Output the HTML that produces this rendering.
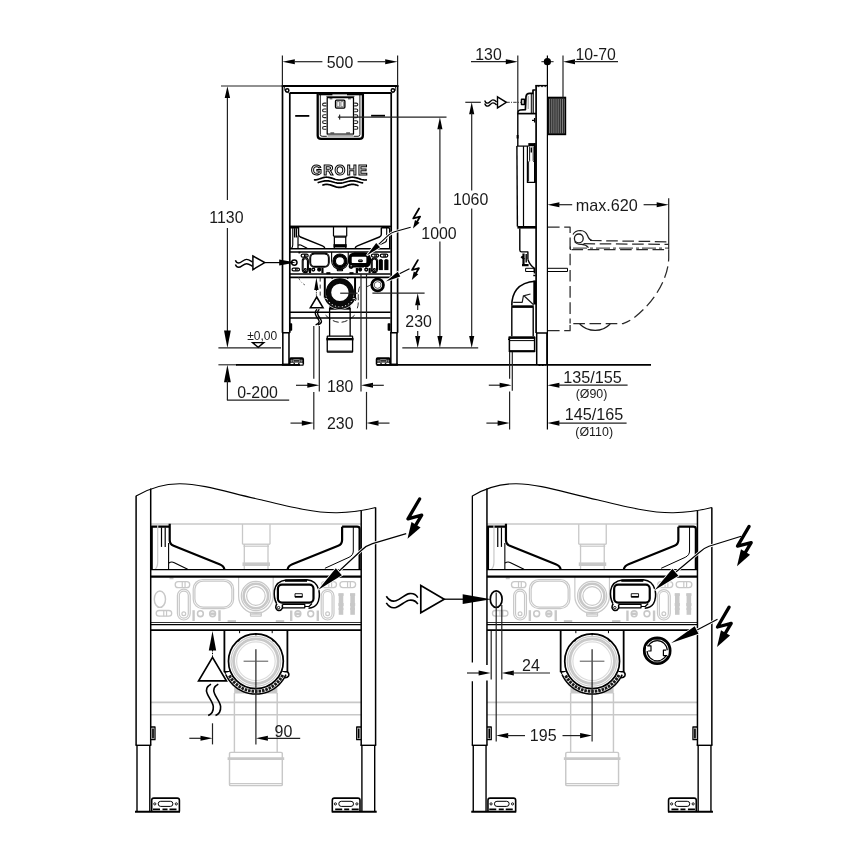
<!DOCTYPE html>
<html lang="en">
<head>
<meta charset="utf-8">
<title>Installation dimensions</title>
<style>
html,body{margin:0;padding:0;background:#fff;}
body{width:868px;height:868px;overflow:hidden;}
svg{display:block;will-change:transform;filter:grayscale(1);}
svg text{font-family:"Liberation Sans",sans-serif;fill:#1a1a1a;}
</style>
</head>
<body>
<svg width="868" height="868" viewBox="0 0 868 868">
<rect x="0" y="0" width="868" height="868" fill="#ffffff"/>
<!-- bottom view dx=0 -->
<path d="M 136.1,496 C 147,489.5 162,483.6 180,483.7 C 204,483.9 230,493.2 262,500 C 290,506.8 315,513 337,512.7 C 351,512.5 364,510.5 375.6,507.5" fill="none" stroke="#000" stroke-width="1.1" stroke-linejoin="round"/>
<line x1="150.7" y1="524" x2="361.2" y2="524" fill="none" stroke="#c8c8c8" stroke-width="1.44"/>
<line x1="242.5" y1="524" x2="242.5" y2="544.2" fill="none" stroke="#c8c8c8" stroke-width="1.32"/>
<line x1="270" y1="524" x2="270" y2="544.2" fill="none" stroke="#c8c8c8" stroke-width="1.32"/>
<line x1="242.5" y1="544.2" x2="270" y2="544.2" fill="none" stroke="#c8c8c8" stroke-width="1.32"/>
<line x1="243.5" y1="546.2" x2="269" y2="546.2" fill="none" stroke="#c8c8c8" stroke-width="1.2"/>
<line x1="244.3" y1="544.2" x2="244.3" y2="569" fill="none" stroke="#c8c8c8" stroke-width="1.32"/>
<line x1="268" y1="544.2" x2="268" y2="569" fill="none" stroke="#c8c8c8" stroke-width="1.32"/>
<line x1="242.5" y1="564.2" x2="270" y2="564.2" fill="none" stroke="#c8c8c8" stroke-width="3.6"/>
<ellipse cx="159.9" cy="599.2" rx="5.6" ry="8.2" fill="none" stroke="#c8c8c8" stroke-width="1.44"/>
<rect x="156.2" y="610.5" width="15.5" height="5.7" rx="2.85" ry="2.85" fill="none" stroke="#c8c8c8" stroke-width="1.32"/>
<line x1="163.75" y1="610.5" x2="163.75" y2="616.2" fill="none" stroke="#c8c8c8" stroke-width="1.2"/>
<line x1="166.55" y1="610.5" x2="166.55" y2="616.2" fill="none" stroke="#c8c8c8" stroke-width="1.2"/>
<rect x="175.2" y="581.7" width="14.5" height="6" rx="3" ry="3" fill="none" stroke="#c8c8c8" stroke-width="1.32"/>
<line x1="182.25" y1="581.7" x2="182.25" y2="587.7" fill="none" stroke="#c8c8c8" stroke-width="1.2"/>
<line x1="185.05" y1="581.7" x2="185.05" y2="587.7" fill="none" stroke="#c8c8c8" stroke-width="1.2"/>
<line x1="169.5" y1="578.3" x2="173.5" y2="578.3" fill="none" stroke="#c8c8c8" stroke-width="1.92"/>
<rect x="177.4" y="589.2" width="12.8" height="30.8" rx="6.4" ry="6.4" fill="none" stroke="#c8c8c8" stroke-width="1.2"/>
<rect x="179.3" y="591.1" width="9" height="27" rx="4.5" ry="4.5" fill="none" stroke="#c8c8c8" stroke-width="1.2"/>
<circle cx="183.8" cy="613.7" r="1.9" fill="none" stroke="#c8c8c8" stroke-width="1.2"/>
<rect x="193.2" y="579.5" width="40.4" height="29.2" rx="9.5" ry="9.5" fill="none" stroke="#c8c8c8" stroke-width="1.2"/>
<rect x="194.9" y="581.1" width="37" height="26" rx="8.2" ry="8.2" fill="none" stroke="#c8c8c8" stroke-width="1.2"/>
<line x1="193.6" y1="610.2" x2="193.6" y2="621" fill="none" stroke="#c8c8c8" stroke-width="2.4"/>
<line x1="219.5" y1="610.2" x2="219.5" y2="621" fill="none" stroke="#c8c8c8" stroke-width="2.4"/>
<circle cx="200.4" cy="613.7" r="2.9" fill="none" stroke="#c8c8c8" stroke-width="1.56"/>
<circle cx="212.6" cy="613.7" r="2.9" fill="none" stroke="#c8c8c8" stroke-width="1.56"/>
<line x1="210.2" y1="613.7" x2="215" y2="613.7" fill="none" stroke="#c8c8c8" stroke-width="2.4"/>
<line x1="238.6" y1="577" x2="238.6" y2="596" fill="none" stroke="#c8c8c8" stroke-width="1.2"/>
<line x1="273.2" y1="577" x2="273.2" y2="596" fill="none" stroke="#c8c8c8" stroke-width="1.2"/>
<path d="M 238.6,596 C 238.6,605.6 246.3,613.3 255.9,613.3 C 265.5,613.3 273.2,605.6 273.2,596" fill="none" stroke="#c8c8c8" stroke-width="1.2" stroke-linejoin="round"/>
<circle cx="255.9" cy="596" r="14.6" fill="none" stroke="#c8c8c8" stroke-width="1.2"/>
<circle cx="255.9" cy="596" r="12.2" fill="none" stroke="#c8c8c8" stroke-width="2.64"/>
<circle cx="255.9" cy="596" r="9.3" fill="none" stroke="#c8c8c8" stroke-width="1.2"/>
<rect x="250.5" y="612.3" width="10.8" height="3.9" rx="0.5" ry="0.5" fill="none" stroke="#c8c8c8" stroke-width="1.2"/>
<line x1="250.5" y1="614.2" x2="261.3" y2="614.2" fill="none" stroke="#c8c8c8" stroke-width="1.08"/>
<line x1="227.6" y1="621.2" x2="236" y2="621.2" fill="none" stroke="#c8c8c8" stroke-width="2.16"/>
<line x1="275.8" y1="621.2" x2="284.2" y2="621.2" fill="none" stroke="#c8c8c8" stroke-width="2.16"/>
<line x1="291.2" y1="610.5" x2="291.2" y2="621" fill="none" stroke="#c8c8c8" stroke-width="2.4"/>
<line x1="317.8" y1="610.5" x2="317.8" y2="621" fill="none" stroke="#c8c8c8" stroke-width="2.4"/>
<circle cx="297.9" cy="613.8" r="2.9" fill="none" stroke="#c8c8c8" stroke-width="1.56"/>
<line x1="295.5" y1="613.8" x2="300.3" y2="613.8" fill="none" stroke="#c8c8c8" stroke-width="2.4"/>
<circle cx="310.7" cy="613.8" r="2.9" fill="none" stroke="#c8c8c8" stroke-width="1.56"/>
<rect x="321.2" y="589.6" width="12.8" height="30.4" rx="6.4" ry="6.4" fill="none" stroke="#c8c8c8" stroke-width="1.2"/>
<rect x="323.1" y="591.5" width="9" height="26.6" rx="4.5" ry="4.5" fill="none" stroke="#c8c8c8" stroke-width="1.2"/>
<circle cx="327.6" cy="613.7" r="1.9" fill="none" stroke="#c8c8c8" stroke-width="1.2"/>
<rect x="339.9" y="581.6" width="15.7" height="6" rx="3" ry="3" fill="none" stroke="#c8c8c8" stroke-width="1.32"/>
<line x1="347.55" y1="581.6" x2="347.55" y2="587.6" fill="none" stroke="#c8c8c8" stroke-width="1.2"/>
<line x1="350.35" y1="581.6" x2="350.35" y2="587.6" fill="none" stroke="#c8c8c8" stroke-width="1.2"/>
<rect x="321.5" y="581.6" width="15" height="6" rx="3" ry="3" fill="none" stroke="#c8c8c8" stroke-width="1.32"/>
<line x1="328.8" y1="581.6" x2="328.8" y2="587.6" fill="none" stroke="#c8c8c8" stroke-width="1.2"/>
<line x1="331.6" y1="581.6" x2="331.6" y2="587.6" fill="none" stroke="#c8c8c8" stroke-width="1.2"/>
<line x1="341" y1="593.4" x2="341" y2="614.8" fill="none" stroke="#c8c8c8" stroke-width="4.56"/>
<line x1="338.4" y1="594.6" x2="343.6" y2="594.6" fill="none" stroke="#c8c8c8" stroke-width="2.64"/>
<line x1="338.4" y1="604.5" x2="343.6" y2="604.5" fill="none" stroke="#c8c8c8" stroke-width="2.88"/>
<line x1="338.6" y1="609" x2="343.4" y2="609" fill="none" stroke="#c8c8c8" stroke-width="1.92"/>
<line x1="352.6" y1="593.4" x2="352.6" y2="614.8" fill="none" stroke="#c8c8c8" stroke-width="4.56"/>
<line x1="350" y1="594.6" x2="355.2" y2="594.6" fill="none" stroke="#c8c8c8" stroke-width="2.64"/>
<line x1="350" y1="604.5" x2="355.2" y2="604.5" fill="none" stroke="#c8c8c8" stroke-width="2.88"/>
<line x1="350.2" y1="609" x2="355" y2="609" fill="none" stroke="#c8c8c8" stroke-width="1.92"/>
<path d="M 151.7,569.4 L 151.7,526.7 L 169.7,526.7" fill="none" stroke="#000" stroke-width="2.2" stroke-linejoin="round"/>
<path d="M 169.7,523.7 L 169.7,540 Q 169.7,544.2 173.6,545.8 L 219.5,564.2 Q 224,566 224.4,569.4" fill="none" stroke="#000" stroke-width="2.2" stroke-linejoin="round"/>
<path d="M 157.7,524 L 157.7,562 Q 157.6,567.5 155,569.4" fill="none" stroke="#c8c8c8" stroke-width="1.2" stroke-linejoin="round"/>
<line x1="161.5" y1="527.4" x2="161.5" y2="546.9" fill="none" stroke="#000" stroke-width="1.2"/>
<line x1="165.2" y1="527.4" x2="165.2" y2="546.9" fill="none" stroke="#000" stroke-width="1.2"/>
<line x1="168.6" y1="543" x2="168.6" y2="569.4" fill="none" stroke="#000" stroke-width="1.1"/>
<path d="M 168.8,563 Q 171.5,561.3 174.3,562.7 L 187.7,569.2" fill="none" stroke="#000" stroke-width="1.1" stroke-linejoin="round"/>
<path d="M 359.6,569.4 L 359.6,529 Q 359.6,526.7 357,526.7 L 342.1,526.7" fill="none" stroke="#000" stroke-width="2.2" stroke-linejoin="round"/>
<path d="M 342.1,526.7 L 342.1,540 Q 342.1,544.2 338.2,545.8 L 292.3,564.2 Q 288,566 287.6,569.4" fill="none" stroke="#000" stroke-width="2.2" stroke-linejoin="round"/>
<path d="M 353.3,527 L 353.3,551 Q 353.3,555.2 349,557.3 L 324.9,568.3" fill="none" stroke="#000" stroke-width="1" stroke-linejoin="round"/>
<line x1="150.7" y1="569.6" x2="361.2" y2="569.6" fill="none" stroke="#000" stroke-width="1.4"/>
<line x1="150.7" y1="576.7" x2="361.2" y2="576.7" fill="none" stroke="#000" stroke-width="2.3"/>
<line x1="150.7" y1="622.5" x2="361.2" y2="622.5" fill="none" stroke="#000" stroke-width="0.8"/>
<line x1="150.7" y1="624.6" x2="361.2" y2="624.6" fill="none" stroke="#000" stroke-width="1.3"/>
<line x1="150.7" y1="630.2" x2="361.2" y2="630.2" fill="none" stroke="#000" stroke-width="1.7"/>
<line x1="234.2" y1="690.4" x2="277.4" y2="690.4" fill="none" stroke="#c8c8c8" stroke-width="6"/>
<line x1="234.4" y1="693" x2="234.4" y2="752.4" fill="none" stroke="#c8c8c8" stroke-width="1.44"/>
<line x1="277.2" y1="693" x2="277.2" y2="752.4" fill="none" stroke="#c8c8c8" stroke-width="1.44"/>
<line x1="150.7" y1="702.4" x2="361.2" y2="702.4" fill="none" stroke="#c8c8c8" stroke-width="1.56"/>
<line x1="150.7" y1="714.7" x2="361.2" y2="714.7" fill="none" stroke="#c8c8c8" stroke-width="1.56"/>
<rect x="229.5" y="752.4" width="52.8" height="33.2" rx="1.2" ry="1.2" fill="none" stroke="#c8c8c8" stroke-width="1.44"/>
<line x1="227.6" y1="758.6" x2="284.2" y2="758.6" fill="none" stroke="#c8c8c8" stroke-width="2.64"/>
<line x1="229.5" y1="783.6" x2="282.3" y2="783.6" fill="none" stroke="#c8c8c8" stroke-width="1.2"/>
<line x1="224.4" y1="630.2" x2="224.4" y2="672.2" fill="none" stroke="#000" stroke-width="1.8"/>
<line x1="287.4" y1="630.2" x2="287.4" y2="672.2" fill="none" stroke="#000" stroke-width="1.8"/>
<line x1="239.6" y1="630.2" x2="239.6" y2="633.2" fill="none" stroke="#000" stroke-width="1"/>
<line x1="272.2" y1="630.2" x2="272.2" y2="633.2" fill="none" stroke="#000" stroke-width="1"/>
<path d="M 224.4,671.8 L 230.2,671.8 L 230.2,668.5" fill="none" stroke="#000" stroke-width="1.4" stroke-linejoin="round"/>
<path d="M 287.4,671.8 L 281.6,671.8 L 281.6,668.5" fill="none" stroke="#000" stroke-width="1.4" stroke-linejoin="round"/>
<path d="M 224.8,672.2 L 227.6,676.3 L 233.4,676.3" fill="none" stroke="#000" stroke-width="1.5" stroke-linejoin="round"/>
<path d="M 287.4,671.8 Q 289.6,673.5 288.6,676 Q 287.4,678 284,677.6 L 278.5,677.2" fill="none" stroke="#000" stroke-width="1.5" stroke-linejoin="round"/>
<circle cx="255.9" cy="661.2" r="27.4" fill="#fff"/>
<path d="M 284.09,672.59 L 282.82,675.32 L 281.3,677.91 L 279.53,680.33 L 277.52,682.57 L 275.3,684.6 L 272.9,686.4 L 270.33,687.96 L 267.62,689.25 L 264.79,690.27 L 261.87,691.01 L 258.9,691.45 L 255.9,691.6 L 252.9,691.45 L 249.93,691.01 L 247.01,690.27 L 244.18,689.25 L 241.47,687.96 L 238.9,686.4 L 236.5,684.6 L 234.28,682.57 L 232.27,680.33 L 230.5,677.91 L 228.98,675.32 L 227.71,672.59" fill="none" stroke="#fff" stroke-width="4.6" stroke-linejoin="round"/>
<path d="M 285.96,674.58 L 284.53,677.4 L 282.85,680.07 L 280.92,682.57 L 278.75,684.87 L 276.38,686.95 L 273.82,688.79 L 271.09,690.38 L 268.22,691.7 L 265.24,692.75 L 262.18,693.5 L 259.05,693.95 L 255.9,694.1 L 252.75,693.95 L 249.62,693.5 L 246.56,692.75 L 243.58,691.7 L 240.71,690.38 L 237.98,688.79 L 235.42,686.95 L 233.05,684.87 L 230.88,682.57 L 228.95,680.07 L 227.27,677.4 L 225.84,674.58" fill="none" stroke="#000" stroke-width="1.5" stroke-linejoin="round"/>
<path d="M 282.81,674.91 L 281.44,677.32 L 279.86,679.58 L 278.08,681.7 L 276.11,683.64 L 273.97,685.4 L 271.68,686.95 L 269.26,688.29 L 266.72,689.39 L 264.1,690.27 L 261.4,690.89 L 258.66,691.27 L 255.9,691.4 L 253.14,691.27 L 250.4,690.89 L 247.7,690.27 L 245.08,689.39 L 242.54,688.29 L 240.12,686.95 L 237.83,685.4 L 235.69,683.64 L 233.72,681.7 L 231.94,679.58 L 230.36,677.32 L 228.99,674.91" fill="none" stroke="#1a1a1a" stroke-width="3" stroke-dasharray="2.6 0.9" stroke-linejoin="round"/>
<circle cx="255.9" cy="661.2" r="27.4" fill="none" stroke="#000" stroke-width="1.7"/>
<circle cx="255.9" cy="661.2" r="24.9" fill="none" stroke="#c8c8c8" stroke-width="1.2"/>
<circle cx="255.9" cy="661.2" r="22.3" fill="none" stroke="#c8c8c8" stroke-width="2.88"/>
<circle cx="255.9" cy="661.2" r="19.3" fill="none" stroke="#dcdcdc" stroke-width="1.2"/>
<line x1="255.9" y1="633.8" x2="255.9" y2="635.2" fill="none" stroke="#000" stroke-width="1.6"/>
<line x1="273.51" y1="640.21" x2="272.61" y2="641.28" fill="none" stroke="#000" stroke-width="1.6"/>
<line x1="238.29" y1="640.21" x2="239.19" y2="641.28" fill="none" stroke="#000" stroke-width="1.6"/>
<path d="M 276.6,603.6 Q 273.6,598 274.4,590.5 Q 276,581.2 286,580 L 307,579.7 Q 316.5,580.6 318.9,590 Q 320.4,598 317.2,603.6 Q 314.5,607.6 308.5,608.2" fill="none" stroke="#000" stroke-width="1.5" stroke-linejoin="round"/>
<rect x="277.9" y="584.7" width="35.6" height="17.9" rx="4" ry="4" fill="#fff" stroke="#000" stroke-width="2.2"/>
<path d="M 295,593.7 L 302.3,593.7 L 302.3,597.2 L 295,597.2 Z" fill="none" stroke="#000" stroke-width="0.9" stroke-linejoin="round"/>
<line x1="295" y1="596.6" x2="302.3" y2="596.6" fill="none" stroke="#000" stroke-width="1.3"/>
<path d="M 277,603.8 Q 274.4,607.5 277.2,610 Q 280.6,611.6 282.4,608.2 L 282.4,604.6" fill="none" stroke="#000" stroke-width="1.5" stroke-linejoin="round"/>
<circle cx="278.6" cy="607.6" r="1.2" fill="none" stroke="#000" stroke-width="0.9"/>
<path d="M 282.4,604.4 L 304.8,604.4 L 304.8,607.8 L 282.4,607.8" fill="none" stroke="#000" stroke-width="1.2" stroke-linejoin="round"/>
<path d="M 304.8,606.5 L 309,606.5 L 312,603.5" fill="none" stroke="#000" stroke-width="1.2" stroke-linejoin="round"/>
<line x1="285" y1="580.8" x2="307" y2="580.8" fill="none" stroke="#000" stroke-width="2"/>
<line x1="135.5" y1="745.3" x2="151.3" y2="745.3" fill="none" stroke="#000" stroke-width="1.4"/>
<line x1="137" y1="745.3" x2="137" y2="811.6" fill="none" stroke="#000" stroke-width="1.4"/>
<line x1="149.8" y1="745.3" x2="149.8" y2="811.6" fill="none" stroke="#000" stroke-width="1.4"/>
<line x1="135" y1="811.7" x2="180" y2="811.7" fill="none" stroke="#000" stroke-width="2"/>
<path d="M 151.7,811.6 L 151.7,800.2 Q 151.7,798.1 153.8,798.1 L 177.3,798.1 Q 179.4,798.1 179.4,800.2 L 179.4,811.6" fill="none" stroke="#000" stroke-width="1.6" stroke-linejoin="round"/>
<rect x="158.2" y="801.3" width="14.7" height="5.1" rx="2.5" ry="2.5" fill="none" stroke="#000" stroke-width="1"/>
<circle cx="154.8" cy="803.9" r="1.1" fill="none" stroke="#000" stroke-width="0.9"/>
<circle cx="176.3" cy="803.9" r="1.1" fill="none" stroke="#000" stroke-width="0.9"/>
<line x1="153" y1="809.4" x2="178" y2="809.4" fill="none" stroke="#000" stroke-width="1.6" stroke-dasharray="7 2.5 5 2"/>
<path d="M 150.7,727 L 155,727 L 155,739.7 L 150.7,739.7" fill="none" stroke="#000" stroke-width="1.3" stroke-linejoin="round"/>
<line x1="153" y1="728.5" x2="153" y2="738.5" fill="none" stroke="#000" stroke-width="1.7"/>
<line x1="376.2" y1="745.3" x2="360.4" y2="745.3" fill="none" stroke="#000" stroke-width="1.4"/>
<line x1="374.7" y1="745.3" x2="374.7" y2="811.6" fill="none" stroke="#000" stroke-width="1.4"/>
<line x1="361.9" y1="745.3" x2="361.9" y2="811.6" fill="none" stroke="#000" stroke-width="1.4"/>
<line x1="376.7" y1="811.7" x2="331.7" y2="811.7" fill="none" stroke="#000" stroke-width="2"/>
<path d="M 360,811.6 L 360,800.2 Q 360,798.1 357.9,798.1 L 334.4,798.1 Q 332.3,798.1 332.3,800.2 L 332.3,811.6" fill="none" stroke="#000" stroke-width="1.6" stroke-linejoin="round"/>
<rect x="338.8" y="801.3" width="14.7" height="5.1" rx="2.5" ry="2.5" fill="none" stroke="#000" stroke-width="1"/>
<circle cx="356.9" cy="803.9" r="1.1" fill="none" stroke="#000" stroke-width="0.9"/>
<circle cx="335.4" cy="803.9" r="1.1" fill="none" stroke="#000" stroke-width="0.9"/>
<line x1="358.7" y1="809.4" x2="333.7" y2="809.4" fill="none" stroke="#000" stroke-width="1.6" stroke-dasharray="7 2.5 5 2"/>
<path d="M 361,727 L 356.7,727 L 356.7,739.7 L 361,739.7" fill="none" stroke="#000" stroke-width="1.3" stroke-linejoin="round"/>
<line x1="358.7" y1="728.5" x2="358.7" y2="738.5" fill="none" stroke="#000" stroke-width="1.7"/>
<line x1="136.1" y1="495.7" x2="136.1" y2="745.3" fill="none" stroke="#000" stroke-width="1.5"/>
<line x1="150.7" y1="488.6" x2="150.7" y2="745.3" fill="none" stroke="#000" stroke-width="1.5"/>
<line x1="361.2" y1="511" x2="361.2" y2="745.3" fill="none" stroke="#000" stroke-width="1.5"/>
<line x1="375.6" y1="507.4" x2="375.6" y2="745.3" fill="none" stroke="#000" stroke-width="1.5"/>
<path d="M 406.2,533.7 L 372.5,543.6 Q 366.5,545.4 361.5,550.2 L 337,573" fill="none" stroke="#fff" stroke-width="2.8" stroke-linejoin="round"/>
<path d="M 406.2,533.7 L 372.5,543.6 Q 366.5,545.4 361.5,550.2 L 337,573" fill="none" stroke="#000" stroke-width="1.2" stroke-linejoin="round"/>
<polygon points="318.1,589.9 335.8,568.36 341.85,575.29" fill="#000" stroke="#fff" stroke-width="1.6" paint-order="stroke" stroke-linejoin="miter"/>
<path d="M 419.6,499 L 408,518.8 L 421.7,515.2 L 414.98,526.38" fill="none" stroke="#000" stroke-width="3.3" stroke-linecap="round" stroke-linejoin="round"/>
<polygon points="407.5,538.8 411.47,521.93 420.55,527.39" fill="#000"/>
<polygon points="212.5,631 216.2,650.5 208.8,650.5" fill="#000"/>
<line x1="212.5" y1="650" x2="212.5" y2="657.6" fill="none" stroke="#000" stroke-width="1" stroke-dasharray="1.5 1.2"/>
<path d="M 212.5,657.4 L 226.4,680.8 L 198.6,680.8 Z" fill="none" stroke="#000" stroke-width="1.7" stroke-linejoin="miter"/>
<path d="M 211,684.1 C 206.5,686.5 205.5,689.5 207.2,693.5 C 208.8,698 212.8,702 213.3,706.5 C 213.6,711 211.8,714 208.2,715.5" fill="none" stroke="#000" stroke-width="1.6" stroke-linejoin="round"/>
<path d="M 218.3,684.1 C 213.8,686.5 212.8,689.5 214.5,693.5 C 216.1,698 220.1,702 220.6,706.5 C 220.9,711 219.1,714 215.5,715.5" fill="none" stroke="#000" stroke-width="1.6" stroke-linejoin="round"/>
<line x1="212.5" y1="723.3" x2="212.5" y2="744.4" fill="none" stroke="#222" stroke-width="1.2"/>
<line x1="255.9" y1="649.2" x2="255.9" y2="744.4" fill="none" stroke="#222" stroke-width="1.2"/>
<line x1="243.6" y1="661.2" x2="268.2" y2="661.2" fill="none" stroke="#555" stroke-width="1"/>
<line x1="189.3" y1="738.3" x2="202" y2="738.3" fill="none" stroke="#222" stroke-width="1.2"/>
<polygon points="212.5,738.3 200.5,740.85 200.5,735.75" fill="#000"/>
<polygon points="255.9,738.3 267.9,735.75 267.9,740.85" fill="#000"/>
<line x1="266.5" y1="738.3" x2="300.2" y2="738.3" fill="none" stroke="#222" stroke-width="1.2"/>
<text x="283.4" y="736.5" font-size="16" text-anchor="middle">90</text>
<!-- bottom view dx=336.25 -->
<path d="M 472.35,496 C 483.25,489.5 498.25,483.6 516.25,483.7 C 540.25,483.9 566.25,493.2 598.25,500 C 626.25,506.8 651.25,513 673.25,512.7 C 687.25,512.5 700.25,510.5 711.85,507.5" fill="none" stroke="#000" stroke-width="1.1" stroke-linejoin="round"/>
<line x1="486.95" y1="524" x2="697.45" y2="524" fill="none" stroke="#c8c8c8" stroke-width="1.44"/>
<line x1="578.75" y1="524" x2="578.75" y2="544.2" fill="none" stroke="#c8c8c8" stroke-width="1.32"/>
<line x1="606.25" y1="524" x2="606.25" y2="544.2" fill="none" stroke="#c8c8c8" stroke-width="1.32"/>
<line x1="578.75" y1="544.2" x2="606.25" y2="544.2" fill="none" stroke="#c8c8c8" stroke-width="1.32"/>
<line x1="579.75" y1="546.2" x2="605.25" y2="546.2" fill="none" stroke="#c8c8c8" stroke-width="1.2"/>
<line x1="580.55" y1="544.2" x2="580.55" y2="569" fill="none" stroke="#c8c8c8" stroke-width="1.32"/>
<line x1="604.25" y1="544.2" x2="604.25" y2="569" fill="none" stroke="#c8c8c8" stroke-width="1.32"/>
<line x1="578.75" y1="564.2" x2="606.25" y2="564.2" fill="none" stroke="#c8c8c8" stroke-width="3.6"/>
<rect x="492.45" y="610.5" width="15.5" height="5.7" rx="2.85" ry="2.85" fill="none" stroke="#c8c8c8" stroke-width="1.32"/>
<line x1="500" y1="610.5" x2="500" y2="616.2" fill="none" stroke="#c8c8c8" stroke-width="1.2"/>
<line x1="502.8" y1="610.5" x2="502.8" y2="616.2" fill="none" stroke="#c8c8c8" stroke-width="1.2"/>
<rect x="511.45" y="581.7" width="14.5" height="6" rx="3" ry="3" fill="none" stroke="#c8c8c8" stroke-width="1.32"/>
<line x1="518.5" y1="581.7" x2="518.5" y2="587.7" fill="none" stroke="#c8c8c8" stroke-width="1.2"/>
<line x1="521.3" y1="581.7" x2="521.3" y2="587.7" fill="none" stroke="#c8c8c8" stroke-width="1.2"/>
<line x1="505.75" y1="578.3" x2="509.75" y2="578.3" fill="none" stroke="#c8c8c8" stroke-width="1.92"/>
<rect x="513.65" y="589.2" width="12.8" height="30.8" rx="6.4" ry="6.4" fill="none" stroke="#c8c8c8" stroke-width="1.2"/>
<rect x="515.55" y="591.1" width="9" height="27" rx="4.5" ry="4.5" fill="none" stroke="#c8c8c8" stroke-width="1.2"/>
<circle cx="520.05" cy="613.7" r="1.9" fill="none" stroke="#c8c8c8" stroke-width="1.2"/>
<rect x="529.45" y="579.5" width="40.4" height="29.2" rx="9.5" ry="9.5" fill="none" stroke="#c8c8c8" stroke-width="1.2"/>
<rect x="531.15" y="581.1" width="37" height="26" rx="8.2" ry="8.2" fill="none" stroke="#c8c8c8" stroke-width="1.2"/>
<line x1="529.85" y1="610.2" x2="529.85" y2="621" fill="none" stroke="#c8c8c8" stroke-width="2.4"/>
<line x1="555.75" y1="610.2" x2="555.75" y2="621" fill="none" stroke="#c8c8c8" stroke-width="2.4"/>
<circle cx="536.65" cy="613.7" r="2.9" fill="none" stroke="#c8c8c8" stroke-width="1.56"/>
<circle cx="548.85" cy="613.7" r="2.9" fill="none" stroke="#c8c8c8" stroke-width="1.56"/>
<line x1="546.45" y1="613.7" x2="551.25" y2="613.7" fill="none" stroke="#c8c8c8" stroke-width="2.4"/>
<line x1="574.85" y1="577" x2="574.85" y2="596" fill="none" stroke="#c8c8c8" stroke-width="1.2"/>
<line x1="609.45" y1="577" x2="609.45" y2="596" fill="none" stroke="#c8c8c8" stroke-width="1.2"/>
<path d="M 574.85,596 C 574.85,605.6 582.55,613.3 592.15,613.3 C 601.75,613.3 609.45,605.6 609.45,596" fill="none" stroke="#c8c8c8" stroke-width="1.2" stroke-linejoin="round"/>
<circle cx="592.15" cy="596" r="14.6" fill="none" stroke="#c8c8c8" stroke-width="1.2"/>
<circle cx="592.15" cy="596" r="12.2" fill="none" stroke="#c8c8c8" stroke-width="2.64"/>
<circle cx="592.15" cy="596" r="9.3" fill="none" stroke="#c8c8c8" stroke-width="1.2"/>
<rect x="586.75" y="612.3" width="10.8" height="3.9" rx="0.5" ry="0.5" fill="none" stroke="#c8c8c8" stroke-width="1.2"/>
<line x1="586.75" y1="614.2" x2="597.55" y2="614.2" fill="none" stroke="#c8c8c8" stroke-width="1.08"/>
<line x1="563.85" y1="621.2" x2="572.25" y2="621.2" fill="none" stroke="#c8c8c8" stroke-width="2.16"/>
<line x1="612.05" y1="621.2" x2="620.45" y2="621.2" fill="none" stroke="#c8c8c8" stroke-width="2.16"/>
<line x1="627.45" y1="610.5" x2="627.45" y2="621" fill="none" stroke="#c8c8c8" stroke-width="2.4"/>
<line x1="654.05" y1="610.5" x2="654.05" y2="621" fill="none" stroke="#c8c8c8" stroke-width="2.4"/>
<circle cx="634.15" cy="613.8" r="2.9" fill="none" stroke="#c8c8c8" stroke-width="1.56"/>
<line x1="631.75" y1="613.8" x2="636.55" y2="613.8" fill="none" stroke="#c8c8c8" stroke-width="2.4"/>
<circle cx="646.95" cy="613.8" r="2.9" fill="none" stroke="#c8c8c8" stroke-width="1.56"/>
<rect x="657.45" y="589.6" width="12.8" height="30.4" rx="6.4" ry="6.4" fill="none" stroke="#c8c8c8" stroke-width="1.2"/>
<rect x="659.35" y="591.5" width="9" height="26.6" rx="4.5" ry="4.5" fill="none" stroke="#c8c8c8" stroke-width="1.2"/>
<circle cx="663.85" cy="613.7" r="1.9" fill="none" stroke="#c8c8c8" stroke-width="1.2"/>
<rect x="676.15" y="581.6" width="15.7" height="6" rx="3" ry="3" fill="none" stroke="#c8c8c8" stroke-width="1.32"/>
<line x1="683.8" y1="581.6" x2="683.8" y2="587.6" fill="none" stroke="#c8c8c8" stroke-width="1.2"/>
<line x1="686.6" y1="581.6" x2="686.6" y2="587.6" fill="none" stroke="#c8c8c8" stroke-width="1.2"/>
<rect x="657.75" y="581.6" width="15" height="6" rx="3" ry="3" fill="none" stroke="#c8c8c8" stroke-width="1.32"/>
<line x1="665.05" y1="581.6" x2="665.05" y2="587.6" fill="none" stroke="#c8c8c8" stroke-width="1.2"/>
<line x1="667.85" y1="581.6" x2="667.85" y2="587.6" fill="none" stroke="#c8c8c8" stroke-width="1.2"/>
<line x1="677.25" y1="593.4" x2="677.25" y2="614.8" fill="none" stroke="#c8c8c8" stroke-width="4.56"/>
<line x1="674.65" y1="594.6" x2="679.85" y2="594.6" fill="none" stroke="#c8c8c8" stroke-width="2.64"/>
<line x1="674.65" y1="604.5" x2="679.85" y2="604.5" fill="none" stroke="#c8c8c8" stroke-width="2.88"/>
<line x1="674.85" y1="609" x2="679.65" y2="609" fill="none" stroke="#c8c8c8" stroke-width="1.92"/>
<line x1="688.85" y1="593.4" x2="688.85" y2="614.8" fill="none" stroke="#c8c8c8" stroke-width="4.56"/>
<line x1="686.25" y1="594.6" x2="691.45" y2="594.6" fill="none" stroke="#c8c8c8" stroke-width="2.64"/>
<line x1="686.25" y1="604.5" x2="691.45" y2="604.5" fill="none" stroke="#c8c8c8" stroke-width="2.88"/>
<line x1="686.45" y1="609" x2="691.25" y2="609" fill="none" stroke="#c8c8c8" stroke-width="1.92"/>
<path d="M 487.95,569.4 L 487.95,526.7 L 505.95,526.7" fill="none" stroke="#000" stroke-width="2.2" stroke-linejoin="round"/>
<path d="M 505.95,523.7 L 505.95,540 Q 505.95,544.2 509.85,545.8 L 555.75,564.2 Q 560.25,566 560.65,569.4" fill="none" stroke="#000" stroke-width="2.2" stroke-linejoin="round"/>
<path d="M 493.95,524 L 493.95,562 Q 493.85,567.5 491.25,569.4" fill="none" stroke="#c8c8c8" stroke-width="1.2" stroke-linejoin="round"/>
<line x1="497.75" y1="527.4" x2="497.75" y2="546.9" fill="none" stroke="#000" stroke-width="1.2"/>
<line x1="501.45" y1="527.4" x2="501.45" y2="546.9" fill="none" stroke="#000" stroke-width="1.2"/>
<line x1="504.85" y1="543" x2="504.85" y2="569.4" fill="none" stroke="#000" stroke-width="1.1"/>
<path d="M 505.05,563 Q 507.75,561.3 510.55,562.7 L 523.95,569.2" fill="none" stroke="#000" stroke-width="1.1" stroke-linejoin="round"/>
<path d="M 695.85,569.4 L 695.85,529 Q 695.85,526.7 693.25,526.7 L 678.35,526.7" fill="none" stroke="#000" stroke-width="2.2" stroke-linejoin="round"/>
<path d="M 678.35,526.7 L 678.35,540 Q 678.35,544.2 674.45,545.8 L 628.55,564.2 Q 624.25,566 623.85,569.4" fill="none" stroke="#000" stroke-width="2.2" stroke-linejoin="round"/>
<path d="M 689.55,527 L 689.55,551 Q 689.55,555.2 685.25,557.3 L 661.15,568.3" fill="none" stroke="#000" stroke-width="1" stroke-linejoin="round"/>
<line x1="486.95" y1="569.6" x2="697.45" y2="569.6" fill="none" stroke="#000" stroke-width="1.4"/>
<line x1="486.95" y1="576.7" x2="697.45" y2="576.7" fill="none" stroke="#000" stroke-width="2.3"/>
<line x1="486.95" y1="622.5" x2="697.45" y2="622.5" fill="none" stroke="#000" stroke-width="0.8"/>
<line x1="486.95" y1="624.6" x2="697.45" y2="624.6" fill="none" stroke="#000" stroke-width="1.3"/>
<line x1="486.95" y1="630.2" x2="697.45" y2="630.2" fill="none" stroke="#000" stroke-width="1.7"/>
<line x1="570.45" y1="690.4" x2="613.65" y2="690.4" fill="none" stroke="#c8c8c8" stroke-width="6"/>
<line x1="570.65" y1="693" x2="570.65" y2="752.4" fill="none" stroke="#c8c8c8" stroke-width="1.44"/>
<line x1="613.45" y1="693" x2="613.45" y2="752.4" fill="none" stroke="#c8c8c8" stroke-width="1.44"/>
<line x1="486.95" y1="702.4" x2="697.45" y2="702.4" fill="none" stroke="#c8c8c8" stroke-width="1.56"/>
<line x1="486.95" y1="714.7" x2="697.45" y2="714.7" fill="none" stroke="#c8c8c8" stroke-width="1.56"/>
<rect x="565.75" y="752.4" width="52.8" height="33.2" rx="1.2" ry="1.2" fill="none" stroke="#c8c8c8" stroke-width="1.44"/>
<line x1="563.85" y1="758.6" x2="620.45" y2="758.6" fill="none" stroke="#c8c8c8" stroke-width="2.64"/>
<line x1="565.75" y1="783.6" x2="618.55" y2="783.6" fill="none" stroke="#c8c8c8" stroke-width="1.2"/>
<line x1="560.65" y1="630.2" x2="560.65" y2="672.2" fill="none" stroke="#000" stroke-width="1.8"/>
<line x1="623.65" y1="630.2" x2="623.65" y2="672.2" fill="none" stroke="#000" stroke-width="1.8"/>
<line x1="575.85" y1="630.2" x2="575.85" y2="633.2" fill="none" stroke="#000" stroke-width="1"/>
<line x1="608.45" y1="630.2" x2="608.45" y2="633.2" fill="none" stroke="#000" stroke-width="1"/>
<path d="M 560.65,671.8 L 566.45,671.8 L 566.45,668.5" fill="none" stroke="#000" stroke-width="1.4" stroke-linejoin="round"/>
<path d="M 623.65,671.8 L 617.85,671.8 L 617.85,668.5" fill="none" stroke="#000" stroke-width="1.4" stroke-linejoin="round"/>
<path d="M 561.05,672.2 L 563.85,676.3 L 569.65,676.3" fill="none" stroke="#000" stroke-width="1.5" stroke-linejoin="round"/>
<path d="M 623.65,671.8 Q 625.85,673.5 624.85,676 Q 623.65,678 620.25,677.6 L 614.75,677.2" fill="none" stroke="#000" stroke-width="1.5" stroke-linejoin="round"/>
<circle cx="592.15" cy="661.2" r="27.4" fill="#fff"/>
<path d="M 620.34,672.59 L 619.07,675.32 L 617.55,677.91 L 615.78,680.33 L 613.77,682.57 L 611.55,684.6 L 609.15,686.4 L 606.58,687.96 L 603.87,689.25 L 601.04,690.27 L 598.12,691.01 L 595.15,691.45 L 592.15,691.6 L 589.15,691.45 L 586.18,691.01 L 583.26,690.27 L 580.43,689.25 L 577.72,687.96 L 575.15,686.4 L 572.75,684.6 L 570.53,682.57 L 568.52,680.33 L 566.75,677.91 L 565.23,675.32 L 563.96,672.59" fill="none" stroke="#fff" stroke-width="4.6" stroke-linejoin="round"/>
<path d="M 622.21,674.58 L 620.78,677.4 L 619.1,680.07 L 617.17,682.57 L 615,684.87 L 612.63,686.95 L 610.07,688.79 L 607.34,690.38 L 604.47,691.7 L 601.49,692.75 L 598.43,693.5 L 595.3,693.95 L 592.15,694.1 L 589,693.95 L 585.87,693.5 L 582.81,692.75 L 579.83,691.7 L 576.96,690.38 L 574.23,688.79 L 571.67,686.95 L 569.3,684.87 L 567.13,682.57 L 565.2,680.07 L 563.52,677.4 L 562.09,674.58" fill="none" stroke="#000" stroke-width="1.5" stroke-linejoin="round"/>
<path d="M 619.06,674.91 L 617.69,677.32 L 616.11,679.58 L 614.33,681.7 L 612.36,683.64 L 610.22,685.4 L 607.93,686.95 L 605.51,688.29 L 602.97,689.39 L 600.35,690.27 L 597.65,690.89 L 594.91,691.27 L 592.15,691.4 L 589.39,691.27 L 586.65,690.89 L 583.95,690.27 L 581.33,689.39 L 578.79,688.29 L 576.37,686.95 L 574.08,685.4 L 571.94,683.64 L 569.97,681.7 L 568.19,679.58 L 566.61,677.32 L 565.24,674.91" fill="none" stroke="#1a1a1a" stroke-width="3" stroke-dasharray="2.6 0.9" stroke-linejoin="round"/>
<circle cx="592.15" cy="661.2" r="27.4" fill="none" stroke="#000" stroke-width="1.7"/>
<circle cx="592.15" cy="661.2" r="24.9" fill="none" stroke="#c8c8c8" stroke-width="1.2"/>
<circle cx="592.15" cy="661.2" r="22.3" fill="none" stroke="#c8c8c8" stroke-width="2.88"/>
<circle cx="592.15" cy="661.2" r="19.3" fill="none" stroke="#dcdcdc" stroke-width="1.2"/>
<line x1="592.15" y1="633.8" x2="592.15" y2="635.2" fill="none" stroke="#000" stroke-width="1.6"/>
<line x1="609.76" y1="640.21" x2="608.86" y2="641.28" fill="none" stroke="#000" stroke-width="1.6"/>
<line x1="574.54" y1="640.21" x2="575.44" y2="641.28" fill="none" stroke="#000" stroke-width="1.6"/>
<path d="M 612.85,603.6 Q 609.85,598 610.65,590.5 Q 612.25,581.2 622.25,580 L 643.25,579.7 Q 652.75,580.6 655.15,590 Q 656.65,598 653.45,603.6 Q 650.75,607.6 644.75,608.2" fill="none" stroke="#000" stroke-width="1.5" stroke-linejoin="round"/>
<rect x="614.15" y="584.7" width="35.6" height="17.9" rx="4" ry="4" fill="#fff" stroke="#000" stroke-width="2.2"/>
<path d="M 631.25,593.7 L 638.55,593.7 L 638.55,597.2 L 631.25,597.2 Z" fill="none" stroke="#000" stroke-width="0.9" stroke-linejoin="round"/>
<line x1="631.25" y1="596.6" x2="638.55" y2="596.6" fill="none" stroke="#000" stroke-width="1.3"/>
<path d="M 613.25,603.8 Q 610.65,607.5 613.45,610 Q 616.85,611.6 618.65,608.2 L 618.65,604.6" fill="none" stroke="#000" stroke-width="1.5" stroke-linejoin="round"/>
<circle cx="614.85" cy="607.6" r="1.2" fill="none" stroke="#000" stroke-width="0.9"/>
<path d="M 618.65,604.4 L 641.05,604.4 L 641.05,607.8 L 618.65,607.8" fill="none" stroke="#000" stroke-width="1.2" stroke-linejoin="round"/>
<path d="M 641.05,606.5 L 645.25,606.5 L 648.25,603.5" fill="none" stroke="#000" stroke-width="1.2" stroke-linejoin="round"/>
<line x1="621.25" y1="580.8" x2="643.25" y2="580.8" fill="none" stroke="#000" stroke-width="2"/>
<line x1="471.75" y1="745.3" x2="487.55" y2="745.3" fill="none" stroke="#000" stroke-width="1.4"/>
<line x1="473.25" y1="745.3" x2="473.25" y2="811.6" fill="none" stroke="#000" stroke-width="1.4"/>
<line x1="486.05" y1="745.3" x2="486.05" y2="811.6" fill="none" stroke="#000" stroke-width="1.4"/>
<line x1="471.25" y1="811.7" x2="516.25" y2="811.7" fill="none" stroke="#000" stroke-width="2"/>
<path d="M 487.95,811.6 L 487.95,800.2 Q 487.95,798.1 490.05,798.1 L 513.55,798.1 Q 515.65,798.1 515.65,800.2 L 515.65,811.6" fill="none" stroke="#000" stroke-width="1.6" stroke-linejoin="round"/>
<rect x="494.45" y="801.3" width="14.7" height="5.1" rx="2.5" ry="2.5" fill="none" stroke="#000" stroke-width="1"/>
<circle cx="491.05" cy="803.9" r="1.1" fill="none" stroke="#000" stroke-width="0.9"/>
<circle cx="512.55" cy="803.9" r="1.1" fill="none" stroke="#000" stroke-width="0.9"/>
<line x1="489.25" y1="809.4" x2="514.25" y2="809.4" fill="none" stroke="#000" stroke-width="1.6" stroke-dasharray="7 2.5 5 2"/>
<path d="M 486.95,727 L 491.25,727 L 491.25,739.7 L 486.95,739.7" fill="none" stroke="#000" stroke-width="1.3" stroke-linejoin="round"/>
<line x1="489.25" y1="728.5" x2="489.25" y2="738.5" fill="none" stroke="#000" stroke-width="1.7"/>
<line x1="712.45" y1="745.3" x2="696.65" y2="745.3" fill="none" stroke="#000" stroke-width="1.4"/>
<line x1="710.95" y1="745.3" x2="710.95" y2="811.6" fill="none" stroke="#000" stroke-width="1.4"/>
<line x1="698.15" y1="745.3" x2="698.15" y2="811.6" fill="none" stroke="#000" stroke-width="1.4"/>
<line x1="712.95" y1="811.7" x2="667.95" y2="811.7" fill="none" stroke="#000" stroke-width="2"/>
<path d="M 696.25,811.6 L 696.25,800.2 Q 696.25,798.1 694.15,798.1 L 670.65,798.1 Q 668.55,798.1 668.55,800.2 L 668.55,811.6" fill="none" stroke="#000" stroke-width="1.6" stroke-linejoin="round"/>
<rect x="675.05" y="801.3" width="14.7" height="5.1" rx="2.5" ry="2.5" fill="none" stroke="#000" stroke-width="1"/>
<circle cx="693.15" cy="803.9" r="1.1" fill="none" stroke="#000" stroke-width="0.9"/>
<circle cx="671.65" cy="803.9" r="1.1" fill="none" stroke="#000" stroke-width="0.9"/>
<line x1="694.95" y1="809.4" x2="669.95" y2="809.4" fill="none" stroke="#000" stroke-width="1.6" stroke-dasharray="7 2.5 5 2"/>
<path d="M 697.25,727 L 692.95,727 L 692.95,739.7 L 697.25,739.7" fill="none" stroke="#000" stroke-width="1.3" stroke-linejoin="round"/>
<line x1="694.95" y1="728.5" x2="694.95" y2="738.5" fill="none" stroke="#000" stroke-width="1.7"/>
<line x1="472.35" y1="495.7" x2="472.35" y2="662.5" fill="none" stroke="#000" stroke-width="1.3"/>
<line x1="472.35" y1="681.3" x2="472.35" y2="745.3" fill="none" stroke="#000" stroke-width="1.3"/>
<line x1="486.95" y1="488.6" x2="486.95" y2="665" fill="none" stroke="#000" stroke-width="1.5"/>
<line x1="486.95" y1="680.5" x2="486.95" y2="745.3" fill="none" stroke="#000" stroke-width="1.5"/>
<line x1="697.45" y1="511" x2="697.45" y2="745.3" fill="none" stroke="#000" stroke-width="1.5"/>
<line x1="711.85" y1="507.4" x2="711.85" y2="745.3" fill="none" stroke="#000" stroke-width="1.5"/>
<path d="M 741.2,536.2 L 709,546.3 Q 704,548 699.5,552.3 L 673.5,574" fill="none" stroke="#fff" stroke-width="2.8" stroke-linejoin="round"/>
<path d="M 741.2,536.2 L 709,546.3 Q 704,548 699.5,552.3 L 673.5,574" fill="none" stroke="#000" stroke-width="1.2" stroke-linejoin="round"/>
<polygon points="654.5,590.2 672.42,568.84 678.4,575.84" fill="#000" stroke="#fff" stroke-width="1.6" paint-order="stroke" stroke-linejoin="miter"/>
<path d="M 749.1,526.4 L 737.5,546.2 L 751.2,542.6 L 744.48,553.78" fill="none" stroke="#000" stroke-width="3.3" stroke-linecap="round" stroke-linejoin="round"/>
<polygon points="737,566.2 740.97,549.33 750.05,554.79" fill="#000"/>
<path d="M 717.5,619.2 L 697,630" fill="none" stroke="#fff" stroke-width="2.8" stroke-linejoin="round"/>
<path d="M 717.5,619.2 L 697,630" fill="none" stroke="#000" stroke-width="1.2" stroke-linejoin="round"/>
<polygon points="671.2,643 694.69,626.32 698.5,633.8" fill="#000" stroke="#fff" stroke-width="1.6" paint-order="stroke" stroke-linejoin="miter"/>
<path d="M 729.1,607.2 L 717.5,627 L 731.2,623.4 L 724.48,634.58" fill="none" stroke="#000" stroke-width="3.3" stroke-linecap="round" stroke-linejoin="round"/>
<polygon points="717,647 720.97,630.13 730.05,635.59" fill="#000"/>
<circle cx="657.2" cy="650.7" r="12.9" fill="none" stroke="#000" stroke-width="2.8"/>
<circle cx="657.2" cy="650.7" r="10.1" fill="none" stroke="#000" stroke-width="1.2"/>
<rect x="646" y="645.8" width="4.9" height="5.2" fill="#fff"/>
<rect x="663.4" y="650.2" width="5" height="5.4" fill="#fff"/>
<path d="M 647.2,645.8 L 651,645.8 L 651,651 L 648.2,651" fill="none" stroke="#000" stroke-width="1.2" stroke-linejoin="round"/>
<path d="M 667.2,655.6 L 663.4,655.6 L 663.4,650.2 L 666.2,650.2" fill="none" stroke="#000" stroke-width="1.2" stroke-linejoin="round"/>
<path d="M 654,639.6 L 660.4,639.6 M 654,661.8 L 660.4,661.8" fill="none" stroke="#444" stroke-width="1.2" stroke-linejoin="round"/>
<path d="M 386.3,596.3 C 389,600.5 392,602 396,600.8 C 401,599.2 405,594.2 409.5,593.6 C 413,593.2 416,594.5 417.8,597.6" fill="none" stroke="#000" stroke-width="1.6" stroke-linejoin="round"/>
<path d="M 386.3,602.9 C 389,607.1 392,608.6 396,607.4 C 401,605.8 405,600.8 409.5,600.2 C 413,599.8 416,601.1 417.8,604.2" fill="none" stroke="#000" stroke-width="1.6" stroke-linejoin="round"/>
<path d="M 420.8,585.6 L 444.2,599.2 L 420.8,612.8 Z" fill="none" stroke="#000" stroke-width="1.7" stroke-linejoin="miter"/>
<line x1="444.2" y1="599.2" x2="463" y2="599.2" fill="none" stroke="#000" stroke-width="1.3"/>
<polygon points="491.2,599.2 462.7,604.1 462.7,594.3" fill="#000"/>
<ellipse cx="496.2" cy="599.2" rx="5.9" ry="8.3" fill="none" stroke="#000" stroke-width="1.7"/>
<line x1="496.2" y1="592.5" x2="496.2" y2="741.5" fill="none" stroke="#222" stroke-width="1.2"/>
<line x1="501.8" y1="605" x2="501.8" y2="679.5" fill="none" stroke="#222" stroke-width="1.2"/>
<line x1="491.2" y1="631" x2="491.2" y2="679.5" fill="none" stroke="#222" stroke-width="1.2"/>
<line x1="467" y1="673" x2="479" y2="673" fill="none" stroke="#222" stroke-width="1.2"/>
<polygon points="490.6,673 478.6,675.55 478.6,670.45" fill="#000"/>
<polygon points="501.8,673 513.8,670.45 513.8,675.55" fill="#000"/>
<line x1="512" y1="673" x2="550" y2="673" fill="none" stroke="#222" stroke-width="1.2"/>
<text x="531" y="670.8" font-size="16" text-anchor="middle">24</text>
<line x1="592.1" y1="649.2" x2="592.1" y2="741.5" fill="none" stroke="#222" stroke-width="1.2"/>
<line x1="579.8" y1="661.2" x2="604.4" y2="661.2" fill="none" stroke="#555" stroke-width="1"/>
<polygon points="496.2,735.6 508.2,733.05 508.2,738.15" fill="#000"/>
<line x1="507" y1="735.6" x2="525" y2="735.6" fill="none" stroke="#222" stroke-width="1.2"/>
<line x1="562.5" y1="735.6" x2="581" y2="735.6" fill="none" stroke="#222" stroke-width="1.2"/>
<polygon points="592.1,735.6 580.1,738.15 580.1,733.05" fill="#000"/>
<text x="543.2" y="741" font-size="16" text-anchor="middle">195</text>
<!-- front view -->
<line x1="289.41" y1="226.49" x2="390.49" y2="226.49" fill="none" stroke="#000" stroke-width="1.32"/>
<line x1="333.49" y1="226.49" x2="333.49" y2="236.19" fill="none" stroke="#000" stroke-width="1.21"/>
<line x1="346.7" y1="226.49" x2="346.7" y2="236.19" fill="none" stroke="#000" stroke-width="1.21"/>
<line x1="333.49" y1="236.19" x2="346.7" y2="236.19" fill="none" stroke="#000" stroke-width="1.21"/>
<line x1="333.97" y1="237.15" x2="346.22" y2="237.15" fill="none" stroke="#000" stroke-width="1.1"/>
<line x1="334.36" y1="236.19" x2="334.36" y2="248.1" fill="none" stroke="#000" stroke-width="1.21"/>
<line x1="345.74" y1="236.19" x2="345.74" y2="248.1" fill="none" stroke="#000" stroke-width="1.21"/>
<line x1="333.49" y1="245.8" x2="346.7" y2="245.8" fill="none" stroke="#000" stroke-width="3.3"/>
<rect x="292.05" y="268.03" width="7.44" height="2.74" rx="1.37" ry="1.37" fill="none" stroke="#000" stroke-width="1.21"/>
<line x1="295.68" y1="268.03" x2="295.68" y2="270.77" fill="none" stroke="#000" stroke-width="1.1"/>
<line x1="297.02" y1="268.03" x2="297.02" y2="270.77" fill="none" stroke="#000" stroke-width="1.1"/>
<rect x="301.18" y="254.2" width="6.96" height="2.88" rx="1.44" ry="1.44" fill="none" stroke="#000" stroke-width="1.21"/>
<line x1="304.56" y1="254.2" x2="304.56" y2="257.08" fill="none" stroke="#000" stroke-width="1.1"/>
<line x1="305.91" y1="254.2" x2="305.91" y2="257.08" fill="none" stroke="#000" stroke-width="1.1"/>
<line x1="298.44" y1="252.57" x2="300.36" y2="252.57" fill="none" stroke="#000" stroke-width="1.76"/>
<rect x="302.23" y="257.8" width="6.15" height="14.79" rx="3.07" ry="3.07" fill="none" stroke="#000" stroke-width="1.1"/>
<rect x="303.14" y="258.72" width="4.32" height="12.97" rx="2.16" ry="2.16" fill="none" stroke="#000" stroke-width="1.1"/>
<circle cx="305.31" cy="269.57" r="0.91" fill="none" stroke="#000" stroke-width="1.1"/>
<rect x="309.82" y="253.15" width="19.4" height="14.02" rx="4.56" ry="4.56" fill="none" stroke="#000" stroke-width="1.1"/>
<rect x="310.64" y="253.91" width="17.77" height="12.49" rx="3.94" ry="3.94" fill="none" stroke="#000" stroke-width="1.1"/>
<line x1="310.01" y1="267.89" x2="310.01" y2="273.07" fill="none" stroke="#000" stroke-width="2.2"/>
<line x1="322.45" y1="267.89" x2="322.45" y2="273.07" fill="none" stroke="#000" stroke-width="2.2"/>
<circle cx="313.28" cy="269.57" r="1.39" fill="none" stroke="#000" stroke-width="1.43"/>
<circle cx="319.14" cy="269.57" r="1.39" fill="none" stroke="#000" stroke-width="1.43"/>
<line x1="317.98" y1="269.57" x2="320.29" y2="269.57" fill="none" stroke="#000" stroke-width="2.2"/>
<line x1="331.62" y1="251.95" x2="331.62" y2="261.07" fill="none" stroke="#000" stroke-width="1.1"/>
<line x1="348.24" y1="251.95" x2="348.24" y2="261.07" fill="none" stroke="#000" stroke-width="1.1"/>
<path d="M 331.62,261.07 C 331.62,265.68 335.32,269.38 339.93,269.38 C 344.54,269.38 348.24,265.68 348.24,261.07" fill="none" stroke="#000" stroke-width="1.1" stroke-linejoin="round"/>
<circle cx="339.93" cy="261.07" r="7.01" fill="none" stroke="#000" stroke-width="1.1"/>
<circle cx="339.93" cy="261.07" r="5.86" fill="none" stroke="#000" stroke-width="2.42"/>
<circle cx="339.93" cy="261.07" r="4.47" fill="none" stroke="#000" stroke-width="1.1"/>
<rect x="337.33" y="268.9" width="5.19" height="1.87" rx="0.24" ry="0.24" fill="none" stroke="#000" stroke-width="1.1"/>
<line x1="337.33" y1="269.81" x2="342.52" y2="269.81" fill="none" stroke="#000" stroke-width="0.99"/>
<line x1="326.34" y1="273.17" x2="330.37" y2="273.17" fill="none" stroke="#000" stroke-width="1.98"/>
<line x1="349.48" y1="273.17" x2="353.52" y2="273.17" fill="none" stroke="#000" stroke-width="1.98"/>
<line x1="356.88" y1="268.03" x2="356.88" y2="273.07" fill="none" stroke="#000" stroke-width="2.2"/>
<line x1="369.65" y1="268.03" x2="369.65" y2="273.07" fill="none" stroke="#000" stroke-width="2.2"/>
<circle cx="360.1" cy="269.62" r="1.39" fill="none" stroke="#000" stroke-width="1.43"/>
<line x1="358.94" y1="269.62" x2="361.25" y2="269.62" fill="none" stroke="#000" stroke-width="2.2"/>
<circle cx="366.24" cy="269.62" r="1.39" fill="none" stroke="#000" stroke-width="1.43"/>
<rect x="371.29" y="258" width="6.15" height="14.6" rx="3.07" ry="3.07" fill="none" stroke="#000" stroke-width="1.1"/>
<rect x="372.2" y="258.91" width="4.32" height="12.77" rx="2.16" ry="2.16" fill="none" stroke="#000" stroke-width="1.1"/>
<circle cx="374.36" cy="269.57" r="0.91" fill="none" stroke="#000" stroke-width="1.1"/>
<rect x="380.26" y="254.15" width="7.54" height="2.88" rx="1.44" ry="1.44" fill="none" stroke="#000" stroke-width="1.21"/>
<line x1="383.94" y1="254.15" x2="383.94" y2="257.04" fill="none" stroke="#000" stroke-width="1.1"/>
<line x1="385.28" y1="254.15" x2="385.28" y2="257.04" fill="none" stroke="#000" stroke-width="1.1"/>
<rect x="371.43" y="254.15" width="7.2" height="2.88" rx="1.44" ry="1.44" fill="none" stroke="#000" stroke-width="1.21"/>
<line x1="374.93" y1="254.15" x2="374.93" y2="257.04" fill="none" stroke="#000" stroke-width="1.1"/>
<line x1="376.28" y1="254.15" x2="376.28" y2="257.04" fill="none" stroke="#000" stroke-width="1.1"/>
<line x1="380.79" y1="259.82" x2="380.79" y2="270.1" fill="none" stroke="#000" stroke-width="4.18"/>
<line x1="379.54" y1="260.4" x2="382.04" y2="260.4" fill="none" stroke="#000" stroke-width="2.42"/>
<line x1="379.54" y1="265.15" x2="382.04" y2="265.15" fill="none" stroke="#000" stroke-width="2.64"/>
<line x1="379.64" y1="267.31" x2="381.95" y2="267.31" fill="none" stroke="#000" stroke-width="1.76"/>
<line x1="386.36" y1="259.82" x2="386.36" y2="270.1" fill="none" stroke="#000" stroke-width="4.18"/>
<line x1="385.11" y1="260.4" x2="387.61" y2="260.4" fill="none" stroke="#000" stroke-width="2.42"/>
<line x1="385.11" y1="265.15" x2="387.61" y2="265.15" fill="none" stroke="#000" stroke-width="2.64"/>
<line x1="385.21" y1="267.31" x2="387.52" y2="267.31" fill="none" stroke="#000" stroke-width="1.76"/>
<path d="M 289.89,248.3 L 289.89,227.79 L 298.53,227.79" fill="none" stroke="#000" stroke-width="1.45" stroke-linejoin="round"/>
<path d="M 298.53,226.35 L 298.53,234.18 Q 298.53,236.19 300.41,236.96 L 322.45,245.8 Q 324.61,246.66 324.8,248.3" fill="none" stroke="#000" stroke-width="1.45" stroke-linejoin="round"/>
<path d="M 292.77,226.49 L 292.77,244.74 Q 292.72,247.38 291.48,248.3" fill="none" stroke="#000" stroke-width="1.1" stroke-linejoin="round"/>
<line x1="294.6" y1="228.13" x2="294.6" y2="237.49" fill="none" stroke="#000" stroke-width="1.32"/>
<line x1="296.37" y1="228.13" x2="296.37" y2="237.49" fill="none" stroke="#000" stroke-width="1.32"/>
<line x1="298.01" y1="235.62" x2="298.01" y2="248.3" fill="none" stroke="#000" stroke-width="1.21"/>
<path d="M 298.1,245.22 Q 299.4,244.41 300.74,245.08 L 307.18,248.2" fill="none" stroke="#000" stroke-width="1.21" stroke-linejoin="round"/>
<path d="M 389.72,248.3 L 389.72,228.9 Q 389.72,227.79 388.48,227.79 L 381.32,227.79" fill="none" stroke="#000" stroke-width="1.45" stroke-linejoin="round"/>
<path d="M 381.32,227.79 L 381.32,234.18 Q 381.32,236.19 379.45,236.96 L 357.41,245.8 Q 355.34,246.66 355.15,248.3" fill="none" stroke="#000" stroke-width="1.45" stroke-linejoin="round"/>
<path d="M 386.7,227.94 L 386.7,239.46 Q 386.7,241.48 384.63,242.49 L 373.06,247.77" fill="none" stroke="#000" stroke-width="1.1" stroke-linejoin="round"/>
<line x1="289.41" y1="248.78" x2="390.49" y2="248.78" fill="none" stroke="#000" stroke-width="1.5"/>
<line x1="289.41" y1="251.95" x2="390.49" y2="251.95" fill="none" stroke="#000" stroke-width="1.6"/>
<line x1="289.41" y1="274.03" x2="390.49" y2="274.03" fill="none" stroke="#000" stroke-width="1.6"/>
<line x1="289.41" y1="277.3" x2="390.49" y2="277.3" fill="none" stroke="#000" stroke-width="1.7"/>
<line x1="329.51" y1="306.4" x2="350.25" y2="306.4" fill="none" stroke="#000" stroke-width="6.6"/>
<line x1="329.6" y1="307.65" x2="329.6" y2="336.17" fill="none" stroke="#000" stroke-width="1.32"/>
<line x1="350.16" y1="307.65" x2="350.16" y2="336.17" fill="none" stroke="#000" stroke-width="1.32"/>
<line x1="289.41" y1="312.16" x2="390.49" y2="312.16" fill="none" stroke="#000" stroke-width="1.43"/>
<line x1="289.41" y1="318.07" x2="390.49" y2="318.07" fill="none" stroke="#000" stroke-width="1.43"/>
<rect x="327.25" y="336.17" width="25.35" height="15.94" rx="0.58" ry="0.58" fill="none" stroke="#000" stroke-width="1.32"/>
<line x1="326.34" y1="339.15" x2="353.52" y2="339.15" fill="none" stroke="#000" stroke-width="2.42"/>
<line x1="327.25" y1="351.15" x2="352.61" y2="351.15" fill="none" stroke="#000" stroke-width="1.1"/>
<line x1="324.8" y1="277.49" x2="324.8" y2="297.66" fill="none" stroke="#000" stroke-width="1.98"/>
<line x1="355.05" y1="277.49" x2="355.05" y2="297.66" fill="none" stroke="#000" stroke-width="1.98"/>
<line x1="332.1" y1="277.49" x2="332.1" y2="278.93" fill="none" stroke="#000" stroke-width="1.1"/>
<line x1="347.76" y1="277.49" x2="347.76" y2="278.93" fill="none" stroke="#000" stroke-width="1.1"/>
<path d="M 324.8,297.47 L 327.59,297.47 L 327.59,295.88" fill="none" stroke="#000" stroke-width="1.54" stroke-linejoin="round"/>
<path d="M 355.05,297.47 L 352.27,297.47 L 352.27,295.88" fill="none" stroke="#000" stroke-width="1.54" stroke-linejoin="round"/>
<path d="M 324.99,297.66 L 326.34,299.63 L 329.12,299.63" fill="none" stroke="#000" stroke-width="1.65" stroke-linejoin="round"/>
<path d="M 355.05,297.47 Q 356.11,298.28 355.63,299.48 Q 355.05,300.45 353.42,300.25 L 350.78,300.06" fill="none" stroke="#000" stroke-width="1.65" stroke-linejoin="round"/>
<circle cx="339.93" cy="292.38" r="13.16" fill="#fff"/>
<path d="M 353.46,297.85 L 352.85,299.16 L 352.13,300.4 L 351.28,301.56 L 350.31,302.64 L 349.24,303.61 L 348.09,304.48 L 346.86,305.23 L 345.56,305.85 L 344.2,306.34 L 342.79,306.69 L 341.37,306.9 L 339.93,306.98 L 338.49,306.9 L 337.06,306.69 L 335.66,306.34 L 334.3,305.85 L 333,305.23 L 331.76,304.48 L 330.61,303.61 L 329.55,302.64 L 328.58,301.56 L 327.73,300.4 L 327,299.16 L 326.39,297.85" fill="none" stroke="#fff" stroke-width="5.06" stroke-linejoin="round"/>
<path d="M 354.36,298.8 L 353.68,300.16 L 352.87,301.44 L 351.94,302.64 L 350.9,303.74 L 349.76,304.74 L 348.53,305.63 L 347.22,306.39 L 345.84,307.02 L 344.41,307.53 L 342.94,307.89 L 341.44,308.1 L 339.93,308.18 L 338.42,308.1 L 336.91,307.89 L 335.44,307.53 L 334.01,307.02 L 332.63,306.39 L 331.32,305.63 L 330.09,304.74 L 328.96,303.74 L 327.91,302.64 L 326.99,301.44 L 326.18,300.16 L 325.49,298.8" fill="none" stroke="#000" stroke-width="1.65" stroke-linejoin="round"/>
<path d="M 352.85,298.96 L 352.19,300.12 L 351.43,301.2 L 350.58,302.22 L 349.63,303.15 L 348.61,304 L 347.51,304.74 L 346.34,305.39 L 345.12,305.91 L 343.87,306.34 L 342.57,306.64 L 341.25,306.82 L 339.93,306.88 L 338.6,306.82 L 337.29,306.64 L 335.99,306.34 L 334.73,305.91 L 333.51,305.39 L 332.35,304.74 L 331.25,304 L 330.22,303.15 L 329.28,302.22 L 328.42,301.2 L 327.66,300.12 L 327.01,298.96" fill="none" stroke="#1a1a1a" stroke-width="3.3" stroke-dasharray="2.6 0.9" stroke-linejoin="round"/>
<circle cx="339.93" cy="292.38" r="13.16" fill="none" stroke="#000" stroke-width="1.87"/>
<circle cx="339.93" cy="292.38" r="11.14" fill="none" stroke="#0a0a0a" stroke-width="4.8"/>
<line x1="339.93" y1="279.22" x2="339.93" y2="279.89" fill="none" stroke="#000" stroke-width="1.76"/>
<line x1="348.39" y1="282.3" x2="347.95" y2="282.81" fill="none" stroke="#000" stroke-width="1.76"/>
<line x1="331.47" y1="282.3" x2="331.9" y2="282.81" fill="none" stroke="#000" stroke-width="1.76"/>
<path d="M 349.87,264.72 Q 348.43,262.03 348.81,258.43 Q 349.58,253.96 354.38,253.39 L 364.47,253.24 Q 369.03,253.67 370.18,258.19 Q 370.9,262.03 369.36,264.72 Q 368.07,266.64 365.19,266.93" fill="#000" stroke="#000" stroke-width="1.65" stroke-linejoin="round"/>
<rect x="350.49" y="255.64" width="17.1" height="8.6" rx="1.92" ry="1.92" fill="#fff" stroke="#000" stroke-width="2.42"/>
<path d="M 358.7,259.96 L 362.21,259.96 L 362.21,261.65 L 358.7,261.65 Z" fill="none" stroke="#000" stroke-width="0.99" stroke-linejoin="round"/>
<line x1="358.7" y1="261.36" x2="362.21" y2="261.36" fill="none" stroke="#000" stroke-width="1.43"/>
<path d="M 350.06,264.81 Q 348.81,266.59 350.16,267.79 Q 351.79,268.56 352.65,266.93 L 352.65,265.2" fill="none" stroke="#000" stroke-width="1.65" stroke-linejoin="round"/>
<circle cx="350.83" cy="266.64" r="0.58" fill="none" stroke="#000" stroke-width="0.99"/>
<path d="M 352.65,265.1 L 363.41,265.1 L 363.41,266.74 L 352.65,266.74" fill="none" stroke="#000" stroke-width="1.32" stroke-linejoin="round"/>
<path d="M 363.41,266.11 L 365.43,266.11 L 366.87,264.67" fill="none" stroke="#000" stroke-width="1.32" stroke-linejoin="round"/>
<line x1="353.9" y1="253.77" x2="364.47" y2="253.77" fill="none" stroke="#000" stroke-width="2.2"/>
<line x1="282.11" y1="332.76" x2="289.7" y2="332.76" fill="none" stroke="#000" stroke-width="1.54"/>
<line x1="282.83" y1="332.76" x2="282.83" y2="364.6" fill="none" stroke="#000" stroke-width="1.54"/>
<line x1="288.98" y1="332.76" x2="288.98" y2="364.6" fill="none" stroke="#000" stroke-width="1.54"/>
<line x1="281.87" y1="364.65" x2="303.48" y2="364.65" fill="none" stroke="#000" stroke-width="2.2"/>
<path d="M 289.89,364.6 L 289.89,359.13 Q 289.89,358.12 290.9,358.12 L 302.18,358.12 Q 303.19,358.12 303.19,359.13 L 303.19,364.6" fill="#222" stroke="#000" stroke-width="1.76" stroke-linejoin="round"/>
<rect x="293.01" y="359.65" width="7.06" height="2.45" rx="1.2" ry="1.2" fill="none" stroke="#ddd" stroke-width="0.6"/>
<circle cx="291.38" cy="360.9" r="0.53" fill="none" stroke="#999" stroke-width="0.99"/>
<circle cx="301.7" cy="360.9" r="0.53" fill="none" stroke="#999" stroke-width="0.99"/>
<line x1="290.52" y1="363.54" x2="302.52" y2="363.54" fill="none" stroke="#fff" stroke-width="1.76" stroke-dasharray="3 1.5"/>
<path d="M 289.41,323.98 L 291.48,323.98 L 291.48,330.07 L 289.41,330.07" fill="#000" stroke="#000" stroke-width="1.43" stroke-linejoin="round"/>
<line x1="290.52" y1="324.7" x2="290.52" y2="329.5" fill="none" stroke="#000" stroke-width="1.87"/>
<line x1="397.7" y1="332.76" x2="390.11" y2="332.76" fill="none" stroke="#000" stroke-width="1.54"/>
<line x1="396.98" y1="332.76" x2="396.98" y2="364.6" fill="none" stroke="#000" stroke-width="1.54"/>
<line x1="390.83" y1="332.76" x2="390.83" y2="364.6" fill="none" stroke="#000" stroke-width="1.54"/>
<line x1="397.94" y1="364.65" x2="376.33" y2="364.65" fill="none" stroke="#000" stroke-width="2.2"/>
<path d="M 389.92,364.6 L 389.92,359.13 Q 389.92,358.12 388.91,358.12 L 377.62,358.12 Q 376.62,358.12 376.62,359.13 L 376.62,364.6" fill="#222" stroke="#000" stroke-width="1.76" stroke-linejoin="round"/>
<rect x="379.74" y="359.65" width="7.06" height="2.45" rx="1.2" ry="1.2" fill="none" stroke="#ddd" stroke-width="0.6"/>
<circle cx="388.43" cy="360.9" r="0.53" fill="none" stroke="#999" stroke-width="0.99"/>
<circle cx="378.1" cy="360.9" r="0.53" fill="none" stroke="#999" stroke-width="0.99"/>
<line x1="389.29" y1="363.54" x2="377.29" y2="363.54" fill="none" stroke="#fff" stroke-width="1.76" stroke-dasharray="3 1.5"/>
<path d="M 390.4,323.98 L 388.33,323.98 L 388.33,330.07 L 390.4,330.07" fill="#000" stroke="#000" stroke-width="1.43" stroke-linejoin="round"/>
<line x1="389.29" y1="324.7" x2="389.29" y2="329.5" fill="none" stroke="#000" stroke-width="1.87"/>
<circle cx="294.3" cy="262.6" r="2.7" fill="none" stroke="#000" stroke-width="1.5"/>
<line x1="282.5" y1="85.4" x2="282.5" y2="332.8" fill="none" stroke="#000" stroke-width="1.7"/>
<line x1="289.8" y1="93" x2="289.8" y2="332.8" fill="none" stroke="#000" stroke-width="1.7"/>
<line x1="391.2" y1="93" x2="391.2" y2="332.8" fill="none" stroke="#000" stroke-width="1.7"/>
<line x1="397.6" y1="85.4" x2="397.6" y2="332.8" fill="none" stroke="#000" stroke-width="1.7"/>
<line x1="281.7" y1="86" x2="398.4" y2="86" fill="none" stroke="#000" stroke-width="1.8"/>
<line x1="289.8" y1="93" x2="391.2" y2="93" fill="none" stroke="#000" stroke-width="1.8"/>
<circle cx="287.2" cy="90.4" r="1.7" fill="none" stroke="#000" stroke-width="1.5"/>
<circle cx="392.9" cy="90.4" r="1.7" fill="none" stroke="#000" stroke-width="1.5"/>
<path d="M 284.5,86.6 L 284.5,88.5 Q 284.6,92.5 289.7,93" fill="none" stroke="#000" stroke-width="0.8" stroke-linejoin="round"/>
<path d="M 395.5,86.6 L 395.5,88.5 Q 395.4,92.5 391.2,93" fill="none" stroke="#000" stroke-width="0.8" stroke-linejoin="round"/>
<path d="M 317.7,93 L 317.7,135.4 Q 317.7,138.8 321.1,138.8 L 359.5,138.8 Q 362.9,138.8 362.9,135.4 L 362.9,93" fill="none" stroke="#000" stroke-width="2.3" stroke-linejoin="round"/>
<path d="M 320.3,94.5 L 320.3,134.6 Q 320.4,136.3 322.2,136.3 L 326.8,136.3" fill="none" stroke="#000" stroke-width="0.9" stroke-linejoin="round"/>
<path d="M 359.9,94.5 L 359.9,134.6 Q 359.8,136.3 358,136.3 L 353.6,136.3" fill="none" stroke="#000" stroke-width="0.9" stroke-linejoin="round"/>
<line x1="318.6" y1="94.2" x2="332.4" y2="94.2" fill="none" stroke="#000" stroke-width="2.2"/>
<line x1="347" y1="94.2" x2="362" y2="94.2" fill="none" stroke="#000" stroke-width="2.2"/>
<line x1="332" y1="93.8" x2="347.4" y2="93.8" fill="none" stroke="#000" stroke-width="1.2"/>
<path d="M 327.2,97.5 L 353.5,97.5 L 353.5,134 L 327.2,134 Z" fill="none" stroke="#000" stroke-width="1.25" stroke-linejoin="round"/>
<line x1="326.4" y1="96.4" x2="354.4" y2="96.4" fill="none" stroke="#000" stroke-width="0.8"/>
<rect x="327.6" y="134.6" width="25.5" height="2.2" fill="#a8a8a8"/>
<line x1="329.6" y1="98.8" x2="332.4" y2="98.8" fill="none" stroke="#000" stroke-width="0.8"/>
<line x1="348" y1="98.8" x2="350.8" y2="98.8" fill="none" stroke="#000" stroke-width="0.8"/>
<line x1="330.4" y1="132.9" x2="334.2" y2="132.9" fill="none" stroke="#000" stroke-width="0.8"/>
<line x1="346.2" y1="132.9" x2="350" y2="132.9" fill="none" stroke="#000" stroke-width="0.8"/>
<rect x="335.5" y="100.2" width="9.4" height="7.9" rx="1" ry="1" fill="#ddd" stroke="#000" stroke-width="1.3"/>
<path d="M 337,101.6 L 339.4,101.6 L 339.4,106.7 L 337,106.7 Z M 341,101.6 L 343.4,101.6 L 343.4,106.7 L 341,106.7 Z" fill="#fff" stroke="#444" stroke-width="0.6" stroke-linejoin="round"/>
<path d="M 326.4,103.1 L 324.2,103.1 Q 322.6,103.1 322.6,104.5 Q 322.6,105.9 324.2,105.9 L 326.4,105.9" fill="none" stroke="#222" stroke-width="1.1" stroke-linejoin="round"/>
<path d="M 354.2,103.1 L 356.2,103.1 Q 357.8,103.1 357.8,104.5 Q 357.8,105.9 356.2,105.9 L 354.2,105.9" fill="none" stroke="#222" stroke-width="1.1" stroke-linejoin="round"/>
<path d="M 326.4,109 L 324.2,109 Q 322.6,109 322.6,110.4 Q 322.6,111.8 324.2,111.8 L 326.4,111.8" fill="none" stroke="#222" stroke-width="1.1" stroke-linejoin="round"/>
<path d="M 354.2,109 L 356.2,109 Q 357.8,109 357.8,110.4 Q 357.8,111.8 356.2,111.8 L 354.2,111.8" fill="none" stroke="#222" stroke-width="1.1" stroke-linejoin="round"/>
<path d="M 326.4,114.8 L 324.2,114.8 Q 322.6,114.8 322.6,116.2 Q 322.6,117.6 324.2,117.6 L 326.4,117.6" fill="none" stroke="#222" stroke-width="1.1" stroke-linejoin="round"/>
<path d="M 354.2,114.8 L 356.2,114.8 Q 357.8,114.8 357.8,116.2 Q 357.8,117.6 356.2,117.6 L 354.2,117.6" fill="none" stroke="#222" stroke-width="1.1" stroke-linejoin="round"/>
<path d="M 326.4,120.7 L 324.2,120.7 Q 322.6,120.7 322.6,122.1 Q 322.6,123.5 324.2,123.5 L 326.4,123.5" fill="none" stroke="#222" stroke-width="1.1" stroke-linejoin="round"/>
<path d="M 354.2,120.7 L 356.2,120.7 Q 357.8,120.7 357.8,122.1 Q 357.8,123.5 356.2,123.5 L 354.2,123.5" fill="none" stroke="#222" stroke-width="1.1" stroke-linejoin="round"/>
<path d="M 326.4,126.5 L 324.2,126.5 Q 322.6,126.5 322.6,127.9 Q 322.6,129.3 324.2,129.3 L 326.4,129.3" fill="none" stroke="#222" stroke-width="1.1" stroke-linejoin="round"/>
<path d="M 354.2,126.5 L 356.2,126.5 Q 357.8,126.5 357.8,127.9 Q 357.8,129.3 356.2,129.3 L 354.2,129.3" fill="none" stroke="#222" stroke-width="1.1" stroke-linejoin="round"/>
<line x1="295.2" y1="115.9" x2="309.3" y2="115.9" fill="none" stroke="#000" stroke-width="1.8"/>
<line x1="371.1" y1="115.7" x2="385" y2="115.7" fill="none" stroke="#000" stroke-width="1.8"/>
<line x1="339.7" y1="114.6" x2="339.7" y2="119.6" fill="none" stroke="#000" stroke-width="1"/>
<text x="339.9" y="174.9" font-size="14" text-anchor="middle" font-weight="bold" style="fill:#f0f0f0;stroke:#000;stroke-width:1px;letter-spacing:1.25px">GROHE</text>
<path d="M 314.6,179.97 L 315.68,179.86 L 316.75,179.65 L 317.83,179.38 L 318.9,179.05 L 319.98,178.69 L 321.05,178.33 L 322.12,177.98 L 323.2,177.68 L 324.28,177.44 L 325.35,177.27 L 326.43,177.2 L 327.5,177.23 L 328.57,177.34 L 329.65,177.55 L 330.73,177.82 L 331.8,178.15 L 332.88,178.51 L 333.95,178.87 L 335.03,179.22 L 336.1,179.52 L 337.18,179.76 L 338.25,179.93 L 339.32,180 L 340.4,179.97 L 341.48,179.86 L 342.55,179.65 L 343.62,179.38 L 344.7,179.05 L 345.77,178.69 L 346.85,178.33 L 347.93,177.98 L 349,177.68 L 350.07,177.44 L 351.15,177.27 L 352.23,177.2 L 353.3,177.23 L 354.38,177.34 L 355.45,177.55 L 356.52,177.82 L 357.6,178.15 L 358.68,178.51 L 359.75,178.87 L 360.82,179.22 L 361.9,179.52 L 362.98,179.76 L 364.05,179.93 L 365.12,180 L 366.2,179.97" fill="none" stroke="#000" stroke-width="1.7" stroke-linecap="round" stroke-linejoin="round"/>
<path d="M 318.3,182.55 L 319.22,182.3 L 320.14,182.03 L 321.06,181.76 L 321.98,181.51 L 322.9,181.28 L 323.82,181.08 L 324.75,180.93 L 325.67,180.84 L 326.59,180.8 L 327.51,180.82 L 328.43,180.9 L 329.35,181.04 L 330.27,181.23 L 331.19,181.45 L 332.11,181.7 L 333.03,181.97 L 333.95,182.23 L 334.88,182.49 L 335.8,182.72 L 336.72,182.92 L 337.64,183.07 L 338.56,183.16 L 339.48,183.2 L 340.4,183.18 L 341.32,183.1 L 342.24,182.96 L 343.16,182.78 L 344.08,182.55 L 345,182.3 L 345.93,182.04 L 346.85,181.77 L 347.77,181.51 L 348.69,181.28 L 349.61,181.09 L 350.53,180.94 L 351.45,180.84 L 352.37,180.8 L 353.29,180.82 L 354.21,180.9 L 355.13,181.04 L 356.05,181.22 L 356.98,181.44 L 357.9,181.7 L 358.82,181.96 L 359.74,182.23 L 360.66,182.48 L 361.58,182.72 L 362.5,182.91" fill="none" stroke="#000" stroke-width="1.7" stroke-linecap="round" stroke-linejoin="round"/>
<path d="M 322.9,185 L 323.63,184.8 L 324.36,184.64 L 325.09,184.51 L 325.82,184.43 L 326.55,184.4 L 327.27,184.41 L 328,184.48 L 328.73,184.58 L 329.46,184.73 L 330.19,184.91 L 330.92,185.13 L 331.65,185.36 L 332.38,185.62 L 333.11,185.88 L 333.84,186.15 L 334.57,186.41 L 335.3,186.65 L 336.02,186.87 L 336.75,187.05 L 337.48,187.21 L 338.21,187.32 L 338.94,187.38 L 339.67,187.4 L 340.4,187.37 L 341.13,187.3 L 341.86,187.18 L 342.59,187.02 L 343.32,186.83 L 344.05,186.6 L 344.77,186.36 L 345.5,186.1 L 346.23,185.83 L 346.96,185.57 L 347.69,185.32 L 348.42,185.08 L 349.15,184.87 L 349.88,184.7 L 350.61,184.56 L 351.34,184.46 L 352.07,184.41 L 352.8,184.4 L 353.52,184.45 L 354.25,184.53 L 354.98,184.67 L 355.71,184.84 L 356.44,185.04 L 357.17,185.27 L 357.9,185.52" fill="none" stroke="#000" stroke-width="1.7" stroke-linecap="round" stroke-linejoin="round"/>
<line x1="289.7" y1="226.5" x2="391.2" y2="226.5" fill="none" stroke="#000" stroke-width="1.3"/>
<path d="M 235.4,260.2 C 236,261.8 237.2,263 238.6,263 C 241.4,263 243.4,259.4 246.6,259.4 C 249.4,259.4 250.6,261 252.4,262" fill="none" stroke="#000" stroke-width="1.4" stroke-linejoin="round"/>
<path d="M 235.4,264.5 C 236,266.1 237.2,267.3 238.6,267.3 C 241.4,267.3 243.4,263.7 246.6,263.7 C 249.4,263.7 250.6,265.3 252.4,266.3" fill="none" stroke="#000" stroke-width="1.4" stroke-linejoin="round"/>
<path d="M 252.9,256 L 264.8,262.6 L 252.9,269.6 Z" fill="none" stroke="#000" stroke-width="1.5" stroke-linejoin="miter"/>
<line x1="264.8" y1="262.6" x2="280" y2="262.6" fill="none" stroke="#000" stroke-width="1.2"/>
<polygon points="296,262.6 279.2,265.6 279.2,259.6" fill="#000"/>
<polygon points="316.4,277.6 318.6,290.1 314.2,290.1" fill="#000"/>
<line x1="316.4" y1="290" x2="316.4" y2="297" fill="none" stroke="#000" stroke-width="0.9" stroke-dasharray="1.2 1"/>
<path d="M 316.7,297 L 323,307.7 L 310.4,307.7 Z" fill="none" stroke="#000" stroke-width="1.6" stroke-linejoin="miter"/>
<path d="M 317,309.2 C 314.8,311.4 314.6,313 316,315.6 C 317.4,318.2 319.4,320.2 319.2,321.6 C 319,323 317.8,324 315.6,324.8" fill="none" stroke="#000" stroke-width="1.35" stroke-linejoin="round"/>
<path d="M 319.3,309.2 C 317.1,311.4 316.9,313 318.3,315.6 C 319.7,318.2 321.7,320.2 321.5,321.6 C 321.3,323 320.1,324 317.9,324.8" fill="none" stroke="#000" stroke-width="1.35" stroke-linejoin="round"/>
<path d="M 298.5,277.5 Q 300.5,282.5 305,285" fill="none" stroke="#444" stroke-width="0.8" stroke-dasharray="3 2 1 2" stroke-linejoin="round"/>
<path d="M 376,277.5 Q 373,285 366,287" fill="none" stroke="#000" stroke-width="0.8" stroke-linejoin="round"/>
<path d="M 325.6,315.2 Q 340,329.4 354.6,315.2" fill="none" stroke="#000" stroke-width="0.9" stroke-dasharray="6 3" stroke-linejoin="round"/>
<path d="M 359.8,286.5 Q 358,289 358.3,300 Q 358.5,306 356.8,309.5" fill="none" stroke="#000" stroke-width="0.8" stroke-dasharray="6 2" stroke-linejoin="round"/>
<path d="M 320.2,277.6 L 320.2,296" fill="none" stroke="#000" stroke-width="0.8" stroke-dasharray="4 3" stroke-linejoin="round"/>
<circle cx="377.6" cy="285" r="5.9" fill="none" stroke="#000" stroke-width="2.7"/>
<circle cx="377.6" cy="285" r="3.4" fill="none" stroke="#333" stroke-width="0.8"/>
<path d="M 419.05,208.5 L 413.25,218.4 L 420.1,216.6 L 416.74,222.19" fill="none" stroke="#000" stroke-width="1.8" stroke-linecap="round" stroke-linejoin="round"/>
<polygon points="413,228.4 414.98,219.96 419.52,222.7" fill="#000"/>
<path d="M 410.7,227.3 L 394.5,231.8 Q 391,232.8 388.5,235.2 L 376,246.8" fill="none" stroke="#fff" stroke-width="2.9" stroke-linejoin="round"/>
<path d="M 410.7,227.3 L 394.5,231.8 Q 391,232.8 388.5,235.2 L 376,246.8" fill="none" stroke="#000" stroke-width="1.1" stroke-linejoin="round"/>
<polygon points="366.8,255.6 376.16,242.91 380.11,247.15" fill="#000" stroke="#fff" stroke-width="1.8" paint-order="stroke" stroke-linejoin="miter"/>
<path d="M 417.85,260.1 L 412.05,270 L 418.9,268.2 L 415.54,273.79" fill="none" stroke="#000" stroke-width="1.8" stroke-linecap="round" stroke-linejoin="round"/>
<polygon points="411.8,280 413.78,271.56 418.32,274.3" fill="#000"/>
<path d="M 409.5,268.7 L 398.5,274.3" fill="none" stroke="#fff" stroke-width="2.9" stroke-linejoin="round"/>
<path d="M 409.5,268.7 L 398.5,274.3" fill="none" stroke="#000" stroke-width="1.1" stroke-linejoin="round"/>
<polygon points="385.9,281.4 397.76,271.85 400.28,276.4" fill="#000" stroke="#fff" stroke-width="1.8" paint-order="stroke" stroke-linejoin="miter"/>
<line x1="282.4" y1="55.6" x2="282.4" y2="85.4" fill="none" stroke="#222" stroke-width="1.2"/>
<line x1="397.6" y1="55.6" x2="397.6" y2="85.4" fill="none" stroke="#222" stroke-width="1.2"/>
<polygon points="282.4,61.7 294.8,59.15 294.8,64.25" fill="#000"/>
<line x1="294" y1="61.7" x2="322.4" y2="61.7" fill="none" stroke="#222" stroke-width="1.2"/>
<polygon points="397.6,61.7 385.2,64.25 385.2,59.15" fill="#000"/>
<line x1="357.6" y1="61.7" x2="386" y2="61.7" fill="none" stroke="#222" stroke-width="1.2"/>
<text x="340" y="68" font-size="15.9" text-anchor="middle">500</text>
<line x1="221" y1="86" x2="282.4" y2="86" fill="none" stroke="#222" stroke-width="1.2"/>
<line x1="227.4" y1="96" x2="227.4" y2="200" fill="none" stroke="#222" stroke-width="1.2"/>
<line x1="227.4" y1="228" x2="227.4" y2="332" fill="none" stroke="#222" stroke-width="1.2"/>
<polygon points="227.4,86.2 230.1,98 224.7,98" fill="#000"/>
<polygon points="227.4,347.9 224,330.4 230.8,330.4" fill="#000"/>
<text x="226.4" y="222.6" font-size="15.9" text-anchor="middle">1130</text>
<line x1="218.4" y1="347.9" x2="281" y2="347.9" fill="none" stroke="#222" stroke-width="1.2"/>
<text x="247.2" y="340" font-size="12" text-anchor="start">±0,00</text>
<path d="M 252.6,342.6 L 263.8,342.6 L 258.2,347.4 Z" fill="none" stroke="#000" stroke-width="1.4" stroke-linejoin="miter"/>
<line x1="218.4" y1="364.8" x2="237" y2="364.8" fill="none" stroke="#222" stroke-width="1.1"/>
<line x1="236" y1="364.8" x2="300" y2="364.8" fill="none" stroke="#000" stroke-width="1.7"/>
<line x1="377" y1="364.8" x2="651" y2="364.8" fill="none" stroke="#000" stroke-width="1.7"/>
<polygon points="227.4,364.8 230.8,382.3 224,382.3" fill="#000"/>
<line x1="227.4" y1="380" x2="227.4" y2="400.1" fill="none" stroke="#222" stroke-width="1.2"/>
<line x1="226.9" y1="400.1" x2="289.2" y2="400.1" fill="none" stroke="#222" stroke-width="1.2"/>
<text x="237.2" y="397.6" font-size="15.9" text-anchor="start">0-200</text>
<line x1="319.3" y1="326" x2="319.3" y2="391.5" fill="none" stroke="#222" stroke-width="1.2"/>
<line x1="361" y1="274" x2="361" y2="391.5" fill="none" stroke="#222" stroke-width="1.2"/>
<line x1="296" y1="385.3" x2="309" y2="385.3" fill="none" stroke="#222" stroke-width="1.2"/>
<polygon points="319.3,385.3 307.3,387.85 307.3,382.75" fill="#000"/>
<polygon points="361,385.3 373,382.75 373,387.85" fill="#000"/>
<line x1="371" y1="385.3" x2="383.8" y2="385.3" fill="none" stroke="#222" stroke-width="1.2"/>
<text x="340.2" y="391.6" font-size="15.9" text-anchor="middle">180</text>
<line x1="313.8" y1="326" x2="313.8" y2="378.8" fill="none" stroke="#222" stroke-width="1.2"/>
<line x1="313.8" y1="391.9" x2="313.8" y2="429.5" fill="none" stroke="#222" stroke-width="1.2"/>
<line x1="366.5" y1="274" x2="366.5" y2="378.8" fill="none" stroke="#222" stroke-width="1.2"/>
<line x1="366.5" y1="391.9" x2="366.5" y2="429.5" fill="none" stroke="#222" stroke-width="1.2"/>
<line x1="290.5" y1="423.1" x2="303" y2="423.1" fill="none" stroke="#222" stroke-width="1.2"/>
<polygon points="313.8,423.1 301.8,425.65 301.8,420.55" fill="#000"/>
<polygon points="366.5,423.1 378.5,420.55 378.5,425.65" fill="#000"/>
<line x1="377" y1="423.1" x2="389.5" y2="423.1" fill="none" stroke="#222" stroke-width="1.2"/>
<text x="340.3" y="429.4" font-size="15.9" text-anchor="middle">230</text>
<line x1="340.2" y1="293.2" x2="357.5" y2="293.2" fill="none" stroke="#222" stroke-width="1.2"/>
<line x1="372.4" y1="293.2" x2="424.6" y2="293.2" fill="none" stroke="#222" stroke-width="1.2"/>
<polygon points="417.7,293.2 420.25,305.2 415.15,305.2" fill="#000"/>
<line x1="417.7" y1="304" x2="417.7" y2="310" fill="none" stroke="#222" stroke-width="1.2"/>
<polygon points="417.7,348 415.15,336 420.25,336" fill="#000"/>
<line x1="417.7" y1="331" x2="417.7" y2="337" fill="none" stroke="#222" stroke-width="1.2"/>
<text x="418.6" y="327.3" font-size="15.9" text-anchor="middle">230</text>
<line x1="337.9" y1="117.1" x2="446.5" y2="117.1" fill="none" stroke="#222" stroke-width="1.2"/>
<polygon points="439.9,117.2 442.45,129.2 437.35,129.2" fill="#000"/>
<line x1="439.9" y1="128" x2="439.9" y2="223.5" fill="none" stroke="#222" stroke-width="1.2"/>
<line x1="439.9" y1="241.5" x2="439.9" y2="337" fill="none" stroke="#222" stroke-width="1.2"/>
<polygon points="439.9,348 437.35,336 442.45,336" fill="#000"/>
<text x="439" y="238.6" font-size="15.9" text-anchor="middle">1000</text>
<line x1="465.3" y1="102.3" x2="480.8" y2="102.3" fill="none" stroke="#222" stroke-width="1.2"/>
<polygon points="471.7,102.3 474.25,114.3 469.15,114.3" fill="#000"/>
<line x1="471.7" y1="113" x2="471.7" y2="190.5" fill="none" stroke="#222" stroke-width="1.2"/>
<line x1="471.7" y1="208.5" x2="471.7" y2="337" fill="none" stroke="#222" stroke-width="1.2"/>
<polygon points="471.7,348 469.15,336 474.25,336" fill="#000"/>
<text x="470.6" y="205" font-size="15.9" text-anchor="middle">1060</text>
<line x1="402.3" y1="347.9" x2="478.2" y2="347.9" fill="none" stroke="#222" stroke-width="1.2"/>
<!-- side view -->
<rect x="548" y="97.4" width="17.5" height="37.1" fill="#2b2b2b"/>
<line x1="549.6" y1="99" x2="549.6" y2="133.2" fill="none" stroke="#8c8c8c" stroke-width="0.85"/>
<line x1="551.75" y1="99" x2="551.75" y2="133.2" fill="none" stroke="#8c8c8c" stroke-width="0.85"/>
<line x1="553.9" y1="99" x2="553.9" y2="133.2" fill="none" stroke="#8c8c8c" stroke-width="0.85"/>
<line x1="556.05" y1="99" x2="556.05" y2="133.2" fill="none" stroke="#8c8c8c" stroke-width="0.85"/>
<line x1="558.2" y1="99" x2="558.2" y2="133.2" fill="none" stroke="#8c8c8c" stroke-width="0.85"/>
<line x1="560.35" y1="99" x2="560.35" y2="133.2" fill="none" stroke="#8c8c8c" stroke-width="0.85"/>
<line x1="562.5" y1="99" x2="562.5" y2="133.2" fill="none" stroke="#8c8c8c" stroke-width="0.85"/>
<line x1="564.65" y1="99" x2="564.65" y2="133.2" fill="none" stroke="#8c8c8c" stroke-width="0.85"/>
<rect x="548" y="97.4" width="17.5" height="37.1" fill="none" stroke="#000" stroke-width="1.4"/>
<line x1="547.4" y1="55.4" x2="547.4" y2="429.5" fill="none" stroke="#000" stroke-width="1.2"/>
<circle cx="547.4" cy="61.7" r="3.6" fill="#000"/>
<line x1="541.4" y1="61.7" x2="553.6" y2="61.7" fill="none" stroke="#000" stroke-width="0.9"/>
<line x1="536.1" y1="85.6" x2="536.1" y2="332.9" fill="none" stroke="#000" stroke-width="1.7"/>
<line x1="535.3" y1="85.6" x2="547.8" y2="85.6" fill="none" stroke="#000" stroke-width="1.4"/>
<line x1="536.1" y1="333" x2="547.4" y2="333" fill="none" stroke="#000" stroke-width="1.5"/>
<line x1="536.7" y1="332.9" x2="536.7" y2="364.8" fill="none" stroke="#000" stroke-width="1.5"/>
<line x1="546.7" y1="332.9" x2="546.7" y2="364.8" fill="none" stroke="#000" stroke-width="1"/>
<path d="M 538.5,365.2 L 545.5,365.2" fill="none" stroke="#000" stroke-width="1.6" stroke-dasharray="2 1.2" stroke-linejoin="round"/>
<path d="M 537.5,86.6 L 546,86.6" fill="none" stroke="#000" stroke-width="0.8" stroke-dasharray="2 1.5" stroke-linejoin="round"/>
<path d="M 517.8,113.5 L 517.8,112.4 Q 518,110.4 520.3,110 L 525.4,109.6 L 526,96.6 Q 526.4,93.4 529.6,93.4 L 533,93.4 L 533,90 L 535.6,90" fill="none" stroke="#000" stroke-width="1.7" stroke-linejoin="round"/>
<path d="M 521.5,99.2 L 524.4,99.2 L 524.4,104.4 L 521.5,104.4 Z" fill="none" stroke="#000" stroke-width="1.5" stroke-linejoin="round"/>
<line x1="531.3" y1="93.6" x2="531.3" y2="113.2" fill="none" stroke="#000" stroke-width="1"/>
<line x1="533.2" y1="93.6" x2="533.2" y2="113.2" fill="none" stroke="#000" stroke-width="1.2"/>
<line x1="528.2" y1="96" x2="528.2" y2="109" fill="none" stroke="#666" stroke-width="0.7"/>
<line x1="517.2" y1="113.6" x2="536" y2="113.6" fill="none" stroke="#000" stroke-width="1.7"/>
<line x1="517.8" y1="113.5" x2="517.8" y2="146.1" fill="none" stroke="#000" stroke-width="1.4"/>
<path d="M 532,120.4 L 535,120.4 M 534.6,118 L 534.6,122.6" fill="none" stroke="#000" stroke-width="1.3" stroke-linejoin="round"/>
<line x1="517.6" y1="135" x2="517.6" y2="138.5" fill="none" stroke="#000" stroke-width="2"/>
<line x1="516.9" y1="146.1" x2="528.6" y2="146.1" fill="none" stroke="#000" stroke-width="1.2"/>
<line x1="516.9" y1="146.1" x2="517.4" y2="226.5" fill="none" stroke="#000" stroke-width="1.4"/>
<line x1="523.5" y1="146.1" x2="523.5" y2="226.5" fill="none" stroke="#000" stroke-width="1.2"/>
<line x1="517.4" y1="227.3" x2="536.1" y2="227.3" fill="none" stroke="#000" stroke-width="2.6"/>
<rect x="528.3" y="143.1" width="5.9" height="3.1" fill="#000"/>
<path d="M 527.4,146 L 527.4,182.4 L 534.8,182.4 L 534.8,146" fill="none" stroke="#000" stroke-width="1.2" stroke-linejoin="round"/>
<path d="M 529.6,146.5 L 529.6,160.6 L 528.6,162 L 528.6,181.5" fill="none" stroke="#000" stroke-width="0.9" stroke-linejoin="round"/>
<path d="M 533.2,146.5 L 533.2,160.6 L 534,162" fill="none" stroke="#000" stroke-width="0.9" stroke-linejoin="round"/>
<path d="M 531.3,147.5 L 531.3,152.5" fill="none" stroke="#000" stroke-width="1.4" stroke-linejoin="round"/>
<line x1="534.9" y1="143" x2="534.9" y2="183" fill="none" stroke="#000" stroke-width="1.8"/>
<path d="M 519.8,228.4 L 519.8,250 Q 519.9,251.9 521.6,251.9 L 527.9,251.9 L 527.9,259.5" fill="none" stroke="#000" stroke-width="1.4" stroke-linejoin="round"/>
<path d="M 523.5,253.5 L 523.5,265.2 M 521.3,256.5 L 524.5,259.5 M 522,265.2 L 528.6,265.2" fill="none" stroke="#000" stroke-width="2.2" stroke-linejoin="round"/>
<path d="M 526.2,254 L 526.2,262.5" fill="none" stroke="#000" stroke-width="1.4" stroke-linejoin="round"/>
<path d="M 527.9,259.5 Q 530,265.5 534.6,268.4" fill="none" stroke="#000" stroke-width="1.4" stroke-linejoin="round"/>
<path d="M 525.6,268.3 L 534.2,268.3 L 534.2,271.5 L 525.6,271.5 Z" fill="none" stroke="#000" stroke-width="1" stroke-linejoin="round"/>
<path d="M 548,268.3 L 567.5,268.3 L 567.5,271.5 L 548,271.5" fill="none" stroke="#000" stroke-width="1" stroke-linejoin="round"/>
<path d="M 534.5,268 L 534.5,273.5 M 533.3,275.5 L 535.6,275.5" fill="none" stroke="#000" stroke-width="1.6" stroke-linejoin="round"/>
<path d="M 535.4,281.3 Q 523,281.8 516.6,289.6 Q 511.9,295.5 511.8,305.5" fill="none" stroke="#000" stroke-width="1.6" stroke-linejoin="round"/>
<line x1="534.7" y1="280.6" x2="534.7" y2="304.5" fill="none" stroke="#000" stroke-width="2.8"/>
<path d="M 513.2,302.4 L 522.2,302.4 L 523.4,295.8 L 530.5,294 M 524.2,296 L 533.6,304.8" fill="none" stroke="#1a1a1a" stroke-width="1.2" stroke-linejoin="round"/>
<line x1="511.2" y1="306.6" x2="533.8" y2="306.6" fill="none" stroke="#000" stroke-width="2.6"/>
<line x1="511.8" y1="307.6" x2="511.8" y2="336.2" fill="none" stroke="#000" stroke-width="1.4"/>
<line x1="533.2" y1="307.6" x2="533.2" y2="336.2" fill="none" stroke="#000" stroke-width="1.4"/>
<line x1="508.6" y1="337.6" x2="535.2" y2="337.6" fill="none" stroke="#000" stroke-width="2.6"/>
<line x1="509" y1="340.6" x2="535" y2="340.6" fill="none" stroke="#000" stroke-width="1"/>
<line x1="509.2" y1="351.2" x2="534.8" y2="351.2" fill="none" stroke="#000" stroke-width="2.2"/>
<line x1="509.4" y1="337" x2="509.4" y2="352" fill="none" stroke="#000" stroke-width="1.5"/>
<line x1="534.6" y1="337" x2="534.6" y2="352" fill="none" stroke="#000" stroke-width="1.5"/>
<line x1="508" y1="339.3" x2="509.4" y2="339.3" fill="none" stroke="#000" stroke-width="1.2"/>
<path d="M 548,227.2 L 570.1,227.2 L 570.1,323.6" fill="none" stroke="#2a2a2a" stroke-width="1.25" stroke-dasharray="11.6 4.6" stroke-linejoin="round"/>
<path d="M 548,330.7 L 570.1,330.7 L 570.1,323.6 L 623.5,323.6" fill="none" stroke="#2a2a2a" stroke-width="1.25" stroke-dasharray="11.6 4.6" stroke-linejoin="round"/>
<path d="M 668.7,249.6 L 668.7,258 C 668.4,277 656,301 633,318.6 Q 628,322 623,323.6" fill="none" stroke="#2a2a2a" stroke-width="1.25" stroke-dasharray="12 4.8" stroke-linejoin="round"/>
<path d="M 590,240.5 L 668.7,241.8" fill="none" stroke="#2a2a2a" stroke-width="1.25" stroke-dasharray="11.6 4.6" stroke-linejoin="round"/>
<path d="M 583.5,243.7 L 668.7,244.4" fill="none" stroke="#2a2a2a" stroke-width="1.25" stroke-dasharray="11.6 4.6" stroke-linejoin="round"/>
<path d="M 571.5,249.6 L 668.7,249.6" fill="none" stroke="#2a2a2a" stroke-width="1.25" stroke-dasharray="11.6 4.6" stroke-linejoin="round"/>
<path d="M 573,248.1 L 668.7,248.1" fill="none" stroke="#2a2a2a" stroke-width="1" stroke-dasharray="14 3 3 3" stroke-linejoin="round"/>
<path d="M 570.4,250 L 570.4,246.5" fill="none" stroke="#2a2a2a" stroke-width="1.2" stroke-linejoin="round"/>
<circle cx="578.8" cy="238.4" r="4.4" fill="none" stroke="#1a1a1a" stroke-width="1.3"/>
<path d="M 573,234.6 Q 575,230.5 580.5,230.5 Q 585.5,230.7 587.5,235.5 Q 589,239.8 592,240.4" fill="none" stroke="#1a1a1a" stroke-width="1.2" stroke-linejoin="round"/>
<path d="M 574.5,241.5 Q 576.5,244.5 581.5,244.3 Q 586,244.5 588.5,247.6" fill="none" stroke="#1a1a1a" stroke-width="1.2" stroke-linejoin="round"/>
<path d="M 579.7,324 Q 586,330.4 595.2,330.4 Q 604,330.4 610.2,324" fill="none" stroke="#1a1a1a" stroke-width="1.2" stroke-linejoin="round"/>
<path d="M 484.7,100.4 C 485.3,102 486.2,103.2 487.6,103.2 C 489.8,103.2 490.8,99.8 493,99.8 C 494.6,99.8 495.6,100.8 496.6,102" fill="none" stroke="#000" stroke-width="1.3" stroke-linejoin="round"/>
<path d="M 484.7,103.4 C 485.3,105 486.2,106.2 487.6,106.2 C 489.8,106.2 490.8,102.8 493,102.8 C 494.6,102.8 495.6,103.8 496.6,105" fill="none" stroke="#000" stroke-width="1.3" stroke-linejoin="round"/>
<path d="M 497.5,96.8 L 506.4,102.3 L 497.5,107.9 Z" fill="none" stroke="#000" stroke-width="1.4" stroke-linejoin="miter"/>
<line x1="506.3" y1="102.3" x2="521.5" y2="102.3" fill="none" stroke="#222" stroke-width="0.9" stroke-dasharray="3.5 1.2 1 1.2"/>
<line x1="471" y1="61.7" x2="507" y2="61.7" fill="none" stroke="#222" stroke-width="1.2"/>
<polygon points="517.8,61.7 505.8,64.25 505.8,59.15" fill="#000"/>
<line x1="517.8" y1="55.4" x2="517.8" y2="113" fill="none" stroke="#222" stroke-width="1.2"/>
<text x="488.5" y="60" font-size="15.8" text-anchor="middle">130</text>
<line x1="563" y1="55.4" x2="563" y2="97.4" fill="none" stroke="#222" stroke-width="1.2"/>
<polygon points="563,61.7 575,59.15 575,64.25" fill="#000"/>
<line x1="574" y1="61.7" x2="618" y2="61.7" fill="none" stroke="#222" stroke-width="1.2"/>
<text x="575.4" y="60" font-size="15.8" text-anchor="start">10-70</text>
<polygon points="547.4,204.7 559.4,202.15 559.4,207.25" fill="#000"/>
<line x1="558.5" y1="204.7" x2="572.2" y2="204.7" fill="none" stroke="#222" stroke-width="1.2"/>
<line x1="643.6" y1="204.7" x2="657.5" y2="204.7" fill="none" stroke="#222" stroke-width="1.2"/>
<polygon points="668.7,204.7 656.7,207.25 656.7,202.15" fill="#000"/>
<line x1="668.7" y1="198.3" x2="668.7" y2="249.6" fill="none" stroke="#222" stroke-width="1.2"/>
<text x="606.8" y="210.7" font-size="16.2" text-anchor="middle">max.620</text>
<line x1="512.3" y1="352" x2="512.3" y2="390.7" fill="none" stroke="#222" stroke-width="1.2"/>
<line x1="509.6" y1="352" x2="509.6" y2="378.7" fill="none" stroke="#222" stroke-width="1.2"/>
<line x1="509.6" y1="391.6" x2="509.6" y2="429.5" fill="none" stroke="#222" stroke-width="1.2"/>
<line x1="488.8" y1="385.2" x2="501" y2="385.2" fill="none" stroke="#222" stroke-width="1.2"/>
<polygon points="511.6,385.2 499.6,387.75 499.6,382.65" fill="#000"/>
<polygon points="547.4,385.2 559.4,382.65 559.4,387.75" fill="#000"/>
<line x1="558.5" y1="385.2" x2="627.6" y2="385.2" fill="none" stroke="#222" stroke-width="1.2"/>
<text x="592.5" y="382.5" font-size="16.2" text-anchor="middle">135/155</text>
<text x="591.5" y="398" font-size="12.4" text-anchor="middle">(Ø90)</text>
<line x1="486.4" y1="423.1" x2="499" y2="423.1" fill="none" stroke="#222" stroke-width="1.2"/>
<polygon points="509.6,423.1 497.6,425.65 497.6,420.55" fill="#000"/>
<polygon points="547.4,423.1 559.4,420.55 559.4,425.65" fill="#000"/>
<line x1="558.5" y1="423.1" x2="626.6" y2="423.1" fill="none" stroke="#222" stroke-width="1.2"/>
<text x="594" y="419.7" font-size="16.2" text-anchor="middle">145/165</text>
<text x="594.2" y="435.9" font-size="12.4" text-anchor="middle">(Ø110)</text>
</svg>
</body>
</html>
